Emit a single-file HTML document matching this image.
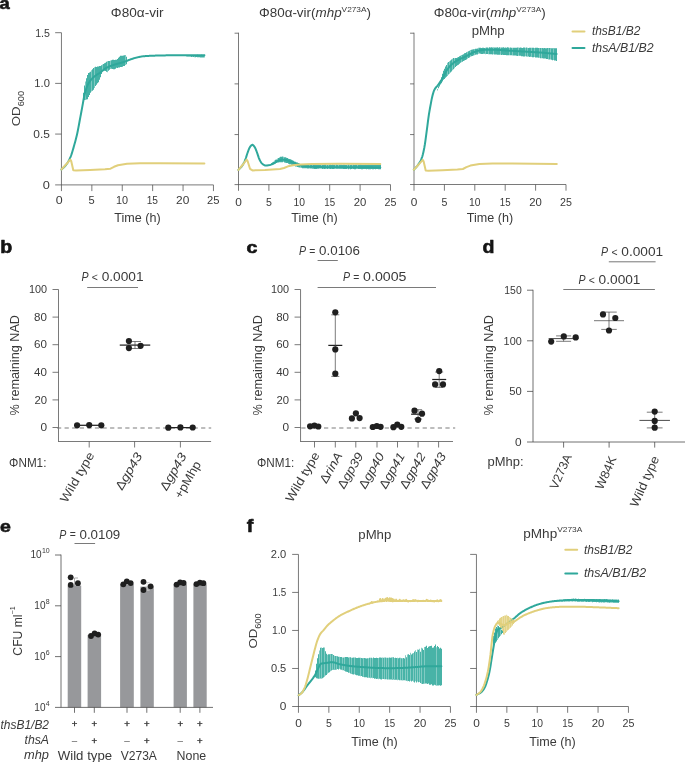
<!DOCTYPE html>
<html lang="en">
<head>
<meta charset="utf-8">
<title>Figure</title>
<style>
html,body{margin:0;padding:0;background:#fff;}
body{width:685px;height:762px;overflow:hidden;}
svg{display:block;font-family:"Liberation Sans",sans-serif;font-size:12.3px;fill:#3a3a3a;}
</style>
</head>
<body>
<svg width="685" height="762" viewBox="0 0 685 762">
<rect width="685" height="762" fill="#ffffff"/>
<text x="-0.40" y="9.30" textLength="10.21" lengthAdjust="spacingAndGlyphs" font-weight="bold" font-size="17.0" fill="#151515" stroke="#151515" stroke-width="0.6" stroke-linejoin="round">a</text>
<line x1="55.15" y1="184.90" x2="213.45" y2="184.90" stroke="#4d4d4d" stroke-width="0.75"/>
<line x1="61.45" y1="32.70" x2="61.45" y2="191.10" stroke="#4d4d4d" stroke-width="0.75"/>
<line x1="91.85" y1="184.90" x2="91.85" y2="191.10" stroke="#4d4d4d" stroke-width="0.75"/>
<line x1="122.25" y1="184.90" x2="122.25" y2="191.10" stroke="#4d4d4d" stroke-width="0.75"/>
<line x1="152.65" y1="184.90" x2="152.65" y2="191.10" stroke="#4d4d4d" stroke-width="0.75"/>
<line x1="183.05" y1="184.90" x2="183.05" y2="191.10" stroke="#4d4d4d" stroke-width="0.75"/>
<line x1="213.45" y1="184.90" x2="213.45" y2="191.10" stroke="#4d4d4d" stroke-width="0.75"/>
<line x1="55.15" y1="134.07" x2="61.45" y2="134.07" stroke="#4d4d4d" stroke-width="0.75"/>
<line x1="55.15" y1="83.38" x2="61.45" y2="83.38" stroke="#4d4d4d" stroke-width="0.75"/>
<line x1="55.15" y1="32.70" x2="61.45" y2="32.70" stroke="#4d4d4d" stroke-width="0.75"/>
<text x="59.25" y="204.20" text-anchor="middle" textLength="6.92" lengthAdjust="spacingAndGlyphs" font-size="10.7">0</text>
<text x="91.55" y="204.20" text-anchor="middle" textLength="6.19" lengthAdjust="spacingAndGlyphs" font-size="10.7">5</text>
<text x="121.95" y="204.20" text-anchor="middle" textLength="12.06" lengthAdjust="spacingAndGlyphs" font-size="10.7">10</text>
<text x="152.35" y="204.20" text-anchor="middle" textLength="11.33" lengthAdjust="spacingAndGlyphs" font-size="10.7">15</text>
<text x="182.75" y="204.20" text-anchor="middle" textLength="13.22" lengthAdjust="spacingAndGlyphs" font-size="10.7">20</text>
<text x="213.15" y="204.20" text-anchor="middle" textLength="12.48" lengthAdjust="spacingAndGlyphs" font-size="10.7">25</text>
<text x="137.45" y="222.30" text-anchor="middle" textLength="46.30" lengthAdjust="spacingAndGlyphs">Time (h)</text>
<line x1="234.55" y1="184.60" x2="390.50" y2="184.60" stroke="#4d4d4d" stroke-width="0.75"/>
<line x1="238.50" y1="32.70" x2="238.50" y2="190.80" stroke="#4d4d4d" stroke-width="0.75"/>
<line x1="268.90" y1="184.60" x2="268.90" y2="190.80" stroke="#4d4d4d" stroke-width="0.75"/>
<line x1="299.30" y1="184.60" x2="299.30" y2="190.80" stroke="#4d4d4d" stroke-width="0.75"/>
<line x1="329.70" y1="184.60" x2="329.70" y2="190.80" stroke="#4d4d4d" stroke-width="0.75"/>
<line x1="360.10" y1="184.60" x2="360.10" y2="190.80" stroke="#4d4d4d" stroke-width="0.75"/>
<line x1="390.50" y1="184.60" x2="390.50" y2="190.80" stroke="#4d4d4d" stroke-width="0.75"/>
<line x1="234.55" y1="134.57" x2="238.50" y2="134.57" stroke="#4d4d4d" stroke-width="0.75"/>
<line x1="234.55" y1="83.88" x2="238.50" y2="83.88" stroke="#4d4d4d" stroke-width="0.75"/>
<line x1="234.55" y1="33.20" x2="238.50" y2="33.20" stroke="#4d4d4d" stroke-width="0.75"/>
<text x="238.50" y="205.80" text-anchor="middle" textLength="6.60" lengthAdjust="spacingAndGlyphs" font-size="10.2">0</text>
<text x="268.90" y="205.80" text-anchor="middle" textLength="5.90" lengthAdjust="spacingAndGlyphs" font-size="10.2">5</text>
<text x="299.30" y="205.80" text-anchor="middle" textLength="11.50" lengthAdjust="spacingAndGlyphs" font-size="10.2">10</text>
<text x="329.70" y="205.80" text-anchor="middle" textLength="10.80" lengthAdjust="spacingAndGlyphs" font-size="10.2">15</text>
<text x="360.10" y="205.80" text-anchor="middle" textLength="12.60" lengthAdjust="spacingAndGlyphs" font-size="10.2">20</text>
<text x="390.50" y="205.80" text-anchor="middle" textLength="11.90" lengthAdjust="spacingAndGlyphs" font-size="10.2">25</text>
<text x="314.50" y="222.30" text-anchor="middle" textLength="46.30" lengthAdjust="spacingAndGlyphs">Time (h)</text>
<line x1="410.05" y1="184.50" x2="566.00" y2="184.50" stroke="#4d4d4d" stroke-width="0.75"/>
<line x1="414.00" y1="32.70" x2="414.00" y2="190.70" stroke="#4d4d4d" stroke-width="0.75"/>
<line x1="444.40" y1="184.50" x2="444.40" y2="190.70" stroke="#4d4d4d" stroke-width="0.75"/>
<line x1="474.80" y1="184.50" x2="474.80" y2="190.70" stroke="#4d4d4d" stroke-width="0.75"/>
<line x1="505.20" y1="184.50" x2="505.20" y2="190.70" stroke="#4d4d4d" stroke-width="0.75"/>
<line x1="535.60" y1="184.50" x2="535.60" y2="190.70" stroke="#4d4d4d" stroke-width="0.75"/>
<line x1="566.00" y1="184.50" x2="566.00" y2="190.70" stroke="#4d4d4d" stroke-width="0.75"/>
<line x1="410.05" y1="134.57" x2="414.00" y2="134.57" stroke="#4d4d4d" stroke-width="0.75"/>
<line x1="410.05" y1="83.88" x2="414.00" y2="83.88" stroke="#4d4d4d" stroke-width="0.75"/>
<line x1="410.05" y1="33.20" x2="414.00" y2="33.20" stroke="#4d4d4d" stroke-width="0.75"/>
<text x="414.00" y="205.80" text-anchor="middle" textLength="6.60" lengthAdjust="spacingAndGlyphs" font-size="10.2">0</text>
<text x="444.40" y="205.80" text-anchor="middle" textLength="5.90" lengthAdjust="spacingAndGlyphs" font-size="10.2">5</text>
<text x="474.80" y="205.80" text-anchor="middle" textLength="11.50" lengthAdjust="spacingAndGlyphs" font-size="10.2">10</text>
<text x="505.20" y="205.80" text-anchor="middle" textLength="10.80" lengthAdjust="spacingAndGlyphs" font-size="10.2">15</text>
<text x="535.60" y="205.80" text-anchor="middle" textLength="12.60" lengthAdjust="spacingAndGlyphs" font-size="10.2">20</text>
<text x="566.00" y="205.80" text-anchor="middle" textLength="11.90" lengthAdjust="spacingAndGlyphs" font-size="10.2">25</text>
<text x="490.00" y="222.30" text-anchor="middle" textLength="46.30" lengthAdjust="spacingAndGlyphs">Time (h)</text>
<text x="49.90" y="188.65" text-anchor="end" textLength="7.12" lengthAdjust="spacingAndGlyphs" font-size="11">0</text>
<text x="49.90" y="137.97" text-anchor="end" textLength="16.61" lengthAdjust="spacingAndGlyphs" font-size="11">0.5</text>
<text x="49.90" y="87.28" text-anchor="end" textLength="15.53" lengthAdjust="spacingAndGlyphs" font-size="11">1.0</text>
<text x="49.90" y="36.60" text-anchor="end" textLength="14.77" lengthAdjust="spacingAndGlyphs" font-size="11">1.5</text>
<text x="20.10" y="108.60" text-anchor="middle" textLength="35.20" lengthAdjust="spacingAndGlyphs" font-size="11.8" transform="rotate(-90 20.10 108.60)">OD<tspan font-size="8.2" dy="4.2">600</tspan></text>
<text x="137.20" y="17.00" text-anchor="middle" textLength="52.70" lengthAdjust="spacingAndGlyphs">Φ80α-vir</text>
<text x="315.00" y="17.00" text-anchor="middle" textLength="112.00" lengthAdjust="spacingAndGlyphs">Φ80α-vir(<tspan font-style="italic">mhp</tspan><tspan font-size="7.6" dy="-5.2">V273A</tspan><tspan dy="5.2">)</tspan></text>
<text x="489.70" y="17.00" text-anchor="middle" textLength="112.00" lengthAdjust="spacingAndGlyphs">Φ80α-vir(<tspan font-style="italic">mhp</tspan><tspan font-size="7.6" dy="-5.2">V273A</tspan><tspan dy="5.2">)</tspan></text>
<text x="488.20" y="35.30" text-anchor="middle" textLength="33.00" lengthAdjust="spacingAndGlyphs">pMhp</text>
<path d="M83,92.67h1V99.97h-1zM84,85.51h1V100.12h-1zM86,78.33h1V99.62h-1zM87,75.11h1V99.27h-1zM88,72.90h1V97.01h-1zM89,72.58h1V95.12h-1zM90,71.74h1V92.65h-1zM92,69.23h1V90.85h-1zM93,68.00h1V89.63h-1zM95,66.73h1V86.05h-1zM96,66.89h1V84.69h-1zM97,66.58h1V83.37h-1zM98,66.46h1V82.20h-1zM99,66.07h1V79.84h-1zM100,65.92h1V77.29h-1zM101,65.17h1V73.91h-1zM103,64.10h1V71.08h-1zM104,63.32h1V70.82h-1zM105,62.69h1V71.02h-1zM106,61.82h1V71.85h-1zM108,61.09h1V70.87h-1zM109,61.07h1V69.65h-1zM111,60.29h1V68.81h-1zM112,59.86h1V68.94h-1zM113,59.65h1V69.26h-1zM114,60.00h1V69.25h-1zM115,59.67h1V68.77h-1zM116,59.75h1V67.68h-1zM117,58.90h1V67.97h-1zM118,57.76h1V67.41h-1zM119,56.81h1V67.51h-1zM120,55.83h1V67.10h-1zM121,55.67h1V67.10h-1zM122,55.67h1V66.69h-1zM123,55.46h1V66.02h-1zM124,55.33h1V66.04h-1zM126,56.84h1V64.18h-1z" fill="#2fa89b" opacity="0.9"/>
<path d="M85,81.53h1V100.00h-1zM91,70.36h1V91.41h-1zM94,67.19h1V87.94h-1zM102,64.48h1V71.23h-1zM107,61.16h1V72.22h-1zM110,60.46h1V68.93h-1zM125,54.88h1V65.07h-1zM127,60.00h1V61.53h-1z" fill="#2fa89b" opacity="0.62"/>
<path d="M187,55.32h1V56.57h-1zM188,55.39h1V56.53h-1zM189,55.45h1V56.61h-1zM191,55.44h1V57.06h-1zM193,55.05h1V56.93h-1zM195,54.92h1V57.29h-1zM196,55.06h1V57.03h-1zM197,54.82h1V57.24h-1zM198,55.11h1V57.36h-1zM199,54.90h1V57.20h-1zM200,54.94h1V57.49h-1zM201,54.79h1V57.55h-1zM202,55.01h1V57.60h-1zM203,54.94h1V57.42h-1z" fill="#2fa89b" opacity="0.9"/>
<path d="M186,55.41h1V56.56h-1zM190,55.29h1V56.76h-1zM192,55.24h1V56.92h-1zM194,55.06h1V57.18h-1zM204,54.77h1V57.40h-1z" fill="#2fa89b" opacity="0.62"/>
<path d="M61.40,169.50 L61.90,169.02 L62.40,168.57 L62.90,168.13 L63.40,167.68 L63.90,167.23 L64.40,166.76 L64.90,166.26 L65.40,165.72 L65.90,165.13 L66.40,164.48 L66.90,163.77 L67.40,163.01 L67.90,162.19 L68.40,161.31 L68.90,160.38 L69.40,159.39 L69.90,158.34 L70.40,157.23 L70.90,156.02 L71.40,154.65 L71.90,153.14 L72.40,151.52 L72.90,149.83 L73.40,148.10 L73.90,146.35 L74.40,144.60 L74.90,142.80 L75.40,140.95 L75.90,139.03 L76.40,137.02 L76.90,134.92 L77.40,132.69 L77.90,130.26 L78.40,127.66 L78.90,124.96 L79.40,122.23 L79.90,119.53 L80.40,116.88 L80.90,114.20 L81.40,111.52 L81.90,108.84 L82.40,106.16 L82.90,103.37 L83.40,100.53 L83.90,97.78 L84.40,95.30 L84.90,93.21 L85.40,91.33 L85.90,89.61 L86.40,88.08 L86.90,86.74 L87.40,85.58 L87.90,84.53 L88.40,83.57 L88.90,82.70 L89.40,81.93 L89.90,81.23 L90.40,80.58 L90.90,79.96 L91.40,79.38 L91.90,78.84 L92.40,78.32 L92.90,77.83 L93.40,77.36 L93.90,76.91 L94.40,76.49 L94.90,76.08 L95.40,75.69 L95.90,75.33 L96.40,75.00 L96.90,74.68 L97.40,74.38 L97.90,74.08 L98.40,73.77 L98.90,73.46 L99.40,73.14 L99.90,72.79 L100.40,72.42 L100.90,72.03 L101.40,71.64 L101.90,71.23 L102.40,70.82 L102.90,70.40 L103.40,69.99 L103.90,69.59 L104.40,69.20 L104.90,68.82 L105.40,68.46 L105.90,68.13 L106.40,67.83 L106.90,67.55 L107.40,67.30 L107.90,67.07 L108.40,66.85 L108.90,66.63 L109.40,66.43 L109.90,66.23 L110.40,66.04 L110.90,65.86 L111.40,65.69 L111.90,65.51 L112.40,65.35 L112.90,65.18 L113.40,65.02 L113.90,64.86 L114.40,64.69 L114.90,64.53 L115.40,64.37 L115.90,64.22 L116.40,64.07 L116.90,63.92 L117.40,63.78 L117.90,63.64 L118.40,63.51 L118.90,63.37 L119.40,63.24 L119.90,63.11 L120.40,62.98 L120.90,62.84 L121.40,62.70 L121.90,62.56 L122.40,62.42 L122.90,62.27 L123.40,62.12 L123.90,61.96 L124.40,61.80 L124.90,61.63 L125.40,61.44 L125.90,61.24 L126.40,61.04 L126.90,60.84 L127.40,60.63 L127.90,60.42 L128.40,60.21 L128.90,60.01 L129.40,59.82 L129.90,59.64 L130.40,59.46 L130.90,59.28 L131.40,59.11 L131.90,58.94 L132.40,58.77 L132.90,58.61 L133.40,58.45 L133.90,58.30 L134.40,58.16 L134.90,58.03 L135.40,57.90 L135.90,57.77 L136.40,57.65 L136.90,57.52 L137.40,57.40 L137.90,57.27 L138.40,57.15 L138.90,57.04 L139.40,56.92 L139.90,56.82 L140.40,56.72 L140.90,56.62 L141.40,56.53 L141.90,56.45 L142.40,56.37 L142.90,56.31 L143.40,56.25 L143.90,56.21 L144.40,56.17 L144.90,56.13 L145.40,56.10 L145.90,56.06 L146.40,56.03 L146.90,56.00 L147.40,55.97 L147.90,55.94 L148.40,55.91 L148.90,55.89 L149.40,55.86 L149.90,55.84 L150.40,55.81 L150.90,55.79 L151.40,55.77 L151.90,55.75 L152.40,55.73 L152.90,55.71 L153.40,55.69 L153.90,55.67 L154.40,55.65 L154.90,55.64 L155.40,55.62 L155.90,55.61 L156.40,55.59 L156.90,55.58 L157.40,55.56 L157.90,55.55 L158.40,55.54 L158.90,55.53 L159.40,55.51 L159.90,55.50 L160.40,55.49 L160.90,55.48 L161.40,55.47 L161.90,55.46 L162.40,55.45 L162.90,55.43 L163.40,55.42 L163.90,55.41 L164.40,55.40 L164.90,55.39 L165.40,55.38 L165.90,55.37 L166.40,55.36 L166.90,55.35 L167.40,55.34 L167.90,55.33 L168.40,55.32 L168.90,55.31 L169.40,55.30 L169.90,55.29 L170.40,55.29 L170.90,55.28 L171.40,55.27 L171.90,55.26 L172.40,55.26 L172.90,55.25 L173.40,55.24 L173.90,55.24 L174.40,55.23 L174.90,55.23 L175.40,55.22 L175.90,55.22 L176.40,55.21 L176.90,55.21 L177.40,55.21 L177.90,55.20 L178.40,55.20 L178.90,55.20 L179.40,55.20 L179.90,55.20 L180.40,55.20 L180.90,55.20 L181.40,55.20 L181.90,55.20 L182.40,55.20 L182.90,55.20 L183.40,55.20 L183.90,55.20 L184.40,55.21 L184.90,55.21 L185.40,55.21 L185.90,55.21 L186.40,55.21 L186.90,55.21 L187.40,55.22 L187.90,55.22 L188.40,55.22 L188.90,55.22 L189.40,55.22 L189.90,55.23 L190.40,55.23 L190.90,55.23 L191.40,55.23 L191.90,55.24 L192.40,55.24 L192.90,55.24 L193.40,55.24 L193.90,55.25 L194.40,55.25 L194.90,55.25 L195.40,55.25 L195.90,55.26 L196.40,55.26 L196.90,55.26 L197.40,55.27 L197.90,55.27 L198.40,55.27 L198.90,55.27 L199.40,55.28 L199.90,55.28 L200.40,55.28 L200.90,55.28 L201.40,55.29 L201.90,55.29 L202.40,55.29 L202.90,55.29 L203.40,55.30 L203.90,55.30 L204.40,55.30" fill="none" stroke="#2fa89b" stroke-width="2.0" stroke-linejoin="round" stroke-linecap="round"/>
<path d="M61.40,169.50 L66.00,164.50 L70.30,159.60 L71.20,161.00 L73.30,170.20 L76.00,170.50 L90.00,170.00 L105.00,169.30 L110.50,168.70 L114.00,166.80 L118.00,165.30 L127.00,163.80 L140.00,163.20 L160.00,163.30 L204.40,163.60" fill="none" stroke="#e1cf7b" stroke-width="2.0" stroke-linejoin="round" stroke-linecap="round"/>
<path d="M271,163.32h1V164.01h-1zM272,162.43h1V164.50h-1zM273,161.67h1V164.37h-1zM275,159.81h1V163.42h-1zM276,159.38h1V163.12h-1zM278,157.97h1V162.54h-1zM279,157.56h1V162.33h-1zM280,156.82h1V162.21h-1zM281,156.63h1V162.16h-1zM282,156.54h1V162.27h-1zM284,157.30h1V162.61h-1zM285,157.22h1V162.82h-1zM286,157.83h1V162.92h-1zM287,157.99h1V163.12h-1zM288,158.63h1V163.70h-1zM289,158.93h1V164.21h-1zM290,159.23h1V164.28h-1zM291,159.70h1V164.81h-1zM292,160.28h1V165.00h-1zM293,160.75h1V165.55h-1zM294,161.50h1V165.93h-1zM295,161.81h1V166.38h-1zM297,162.46h1V167.11h-1zM298,162.93h1V167.21h-1zM299,163.51h1V167.39h-1zM301,164.29h1V167.85h-1zM302,164.21h1V168.16h-1zM303,164.39h1V168.23h-1zM304,164.39h1V168.24h-1zM305,164.47h1V168.35h-1zM306,164.53h1V168.33h-1zM307,164.66h1V168.58h-1zM308,164.51h1V168.52h-1zM310,164.69h1V168.44h-1zM311,164.65h1V168.52h-1zM313,164.89h1V168.83h-1zM314,164.63h1V168.94h-1zM315,164.66h1V168.98h-1zM316,164.78h1V169.01h-1zM317,164.63h1V168.76h-1zM318,164.72h1V168.66h-1zM319,164.89h1V168.59h-1zM320,164.76h1V168.59h-1zM322,165.01h1V168.96h-1zM323,165.00h1V168.66h-1zM324,164.58h1V168.97h-1zM325,164.62h1V168.82h-1zM327,164.98h1V168.90h-1zM329,164.87h1V168.85h-1zM330,164.59h1V169.09h-1zM331,164.93h1V168.71h-1zM332,164.59h1V169.07h-1zM333,164.72h1V168.94h-1zM334,164.68h1V168.75h-1zM336,164.58h1V168.80h-1zM337,164.70h1V168.86h-1zM339,164.72h1V168.74h-1zM340,164.68h1V168.75h-1zM341,164.81h1V168.83h-1zM342,164.99h1V168.80h-1zM343,164.76h1V168.99h-1zM344,164.74h1V169.00h-1zM345,165.01h1V168.93h-1zM346,164.88h1V169.08h-1zM348,164.59h1V169.14h-1zM350,164.94h1V169.21h-1zM351,164.87h1V168.95h-1zM353,164.76h1V168.96h-1zM354,165.00h1V169.29h-1zM355,164.67h1V169.29h-1zM356,164.72h1V168.86h-1zM358,164.79h1V168.88h-1zM359,164.68h1V168.93h-1zM360,164.58h1V168.90h-1zM361,164.67h1V169.17h-1zM362,164.90h1V169.21h-1zM363,164.96h1V169.09h-1zM364,165.01h1V168.99h-1zM365,164.85h1V168.95h-1zM366,164.97h1V169.23h-1zM367,164.93h1V169.01h-1zM368,164.79h1V169.34h-1zM369,164.94h1V169.23h-1zM370,164.87h1V169.29h-1zM371,164.58h1V169.04h-1zM372,164.61h1V169.37h-1zM373,164.85h1V169.28h-1zM374,164.78h1V169.00h-1zM375,164.90h1V169.24h-1zM376,164.86h1V169.05h-1zM377,164.68h1V169.06h-1zM378,164.89h1V169.13h-1zM379,165.01h1V169.26h-1zM380,164.78h1V169.36h-1z" fill="#2fa89b" opacity="0.9"/>
<path d="M274,160.57h1V163.64h-1zM277,158.52h1V162.70h-1zM283,156.70h1V162.10h-1zM296,162.06h1V166.69h-1zM300,163.91h1V167.85h-1zM309,164.82h1V168.40h-1zM312,164.92h1V168.93h-1zM321,164.85h1V168.83h-1zM326,164.93h1V168.75h-1zM328,164.88h1V168.69h-1zM335,164.67h1V168.75h-1zM338,164.69h1V168.95h-1zM347,164.72h1V168.82h-1zM349,164.68h1V168.88h-1zM352,164.69h1V169.04h-1zM357,164.78h1V169.10h-1z" fill="#2fa89b" opacity="0.62"/>
<path d="M238.40,169.90 L238.90,169.38 L239.40,168.87 L239.90,168.38 L240.40,167.88 L240.90,167.35 L241.40,166.77 L241.90,166.14 L242.40,165.43 L242.90,164.64 L243.40,163.78 L243.90,162.84 L244.40,161.82 L244.90,160.73 L245.40,159.48 L245.90,157.99 L246.40,156.38 L246.90,154.76 L247.40,153.27 L247.90,151.91 L248.40,150.52 L248.90,149.20 L249.40,148.04 L249.90,147.14 L250.40,146.47 L250.90,145.84 L251.40,145.31 L251.90,144.94 L252.40,144.80 L252.90,144.97 L253.40,145.40 L253.90,146.00 L254.40,146.67 L254.90,147.43 L255.40,148.45 L255.90,149.65 L256.40,150.95 L256.90,152.25 L257.40,153.58 L257.90,155.07 L258.40,156.61 L258.90,158.05 L259.40,159.29 L259.90,160.30 L260.40,161.25 L260.90,162.11 L261.40,162.84 L261.90,163.41 L262.40,163.84 L262.90,164.26 L263.40,164.64 L263.90,164.97 L264.40,165.24 L264.90,165.42 L265.40,165.50 L265.90,165.49 L266.40,165.47 L266.90,165.44 L267.40,165.39 L267.90,165.34 L268.40,165.28 L268.90,165.21 L269.40,165.13 L269.90,165.01 L270.40,164.86 L270.90,164.67 L271.40,164.46 L271.90,164.23 L272.40,163.99 L272.90,163.75 L273.40,163.50 L273.90,163.25 L274.40,162.99 L274.90,162.69 L275.40,162.37 L275.90,162.03 L276.40,161.69 L276.90,161.37 L277.40,161.08 L277.90,160.84 L278.40,160.64 L278.90,160.43 L279.40,160.23 L279.90,160.04 L280.40,159.87 L280.90,159.73 L281.40,159.64 L281.90,159.60 L282.40,159.61 L282.90,159.63 L283.40,159.66 L283.90,159.71 L284.40,159.77 L284.90,159.84 L285.40,159.91 L285.90,159.98 L286.40,160.07 L286.90,160.20 L287.40,160.35 L287.90,160.52 L288.40,160.72 L288.90,160.92 L289.40,161.14 L289.90,161.35 L290.40,161.56 L290.90,161.76 L291.40,161.95 L291.90,162.15 L292.40,162.36 L292.90,162.57 L293.40,162.78 L293.90,162.99 L294.40,163.19 L294.90,163.39 L295.40,163.58 L295.90,163.77 L296.40,163.94 L296.90,164.11 L297.40,164.29 L297.90,164.46 L298.40,164.63 L298.90,164.79 L299.40,164.95 L299.90,165.10 L300.40,165.24 L300.90,165.37 L301.40,165.48 L301.90,165.58 L302.40,165.67 L302.90,165.76 L303.40,165.84 L303.90,165.92 L304.40,166.00 L304.90,166.08 L305.40,166.15 L305.90,166.23 L306.40,166.29 L306.90,166.36 L307.40,166.42 L307.90,166.48 L308.40,166.53 L308.90,166.58 L309.40,166.63 L309.90,166.67 L310.40,166.71 L310.90,166.74 L311.40,166.77 L311.90,166.80 L312.40,166.82 L312.90,166.84 L313.40,166.85 L313.90,166.87 L314.40,166.89 L314.90,166.91 L315.40,166.92 L315.90,166.94 L316.40,166.95 L316.90,166.97 L317.40,166.98 L317.90,167.00 L318.40,167.01 L318.90,167.02 L319.40,167.04 L319.90,167.05 L320.40,167.06 L320.90,167.07 L321.40,167.08 L321.90,167.09 L322.40,167.10 L322.90,167.11 L323.40,167.12 L323.90,167.13 L324.40,167.14 L324.90,167.14 L325.40,167.15 L325.90,167.16 L326.40,167.16 L326.90,167.17 L327.40,167.18 L327.90,167.18 L328.40,167.19 L328.90,167.19 L329.40,167.20 L329.90,167.20 L330.40,167.20 L330.90,167.21 L331.40,167.21 L331.90,167.21 L332.40,167.22 L332.90,167.22 L333.40,167.22 L333.90,167.23 L334.40,167.23 L334.90,167.23 L335.40,167.24 L335.90,167.24 L336.40,167.24 L336.90,167.25 L337.40,167.25 L337.90,167.25 L338.40,167.25 L338.90,167.26 L339.40,167.26 L339.90,167.26 L340.40,167.26 L340.90,167.27 L341.40,167.27 L341.90,167.27 L342.40,167.27 L342.90,167.28 L343.40,167.28 L343.90,167.28 L344.40,167.28 L344.90,167.29 L345.40,167.29 L345.90,167.29 L346.40,167.29 L346.90,167.29 L347.40,167.30 L347.90,167.30 L348.40,167.30 L348.90,167.30 L349.40,167.30 L349.90,167.31 L350.40,167.31 L350.90,167.31 L351.40,167.31 L351.90,167.31 L352.40,167.31 L352.90,167.32 L353.40,167.32 L353.90,167.32 L354.40,167.32 L354.90,167.32 L355.40,167.32 L355.90,167.32 L356.40,167.33 L356.90,167.33 L357.40,167.33 L357.90,167.33 L358.40,167.33 L358.90,167.33 L359.40,167.34 L359.90,167.34 L360.40,167.34 L360.90,167.34 L361.40,167.34 L361.90,167.34 L362.40,167.34 L362.90,167.34 L363.40,167.35 L363.90,167.35 L364.40,167.35 L364.90,167.35 L365.40,167.35 L365.90,167.35 L366.40,167.35 L366.90,167.36 L367.40,167.36 L367.90,167.36 L368.40,167.36 L368.90,167.36 L369.40,167.36 L369.90,167.36 L370.40,167.37 L370.90,167.37 L371.40,167.37 L371.90,167.37 L372.40,167.37 L372.90,167.37 L373.40,167.38 L373.90,167.38 L374.40,167.38 L374.90,167.38 L375.40,167.38 L375.90,167.38 L376.40,167.39 L376.90,167.39 L377.40,167.39 L377.90,167.39 L378.40,167.39 L378.90,167.39 L379.40,167.40 L379.90,167.40 L380.30,167.40" fill="none" stroke="#2fa89b" stroke-width="2.0" stroke-linejoin="round" stroke-linecap="round"/>
<path d="M238.40,169.90 L243.00,164.50 L246.60,159.60 L247.60,161.00 L250.00,168.80 L252.50,170.40 L265.00,170.00 L280.00,169.00 L284.00,168.00 L288.00,166.30 L293.00,165.30 L300.00,164.60 L312.00,163.90 L340.00,163.80 L380.30,164.10" fill="none" stroke="#e1cf7b" stroke-width="2.0" stroke-linejoin="round" stroke-linecap="round"/>
<path d="M438,86.32h1V88.33h-1zM439,83.98h1V86.38h-1zM440,80.36h1V84.61h-1zM441,77.29h1V83.19h-1zM442,73.81h1V81.46h-1zM443,70.74h1V79.74h-1zM444,68.63h1V79.07h-1zM445,66.56h1V77.87h-1zM446,64.93h1V76.86h-1zM448,62.11h1V74.62h-1zM450,60.40h1V72.57h-1zM451,59.53h1V71.54h-1zM453,58.11h1V69.29h-1zM455,57.98h1V67.09h-1zM456,58.04h1V65.90h-1zM457,57.50h1V65.15h-1zM458,56.92h1V64.65h-1zM459,56.25h1V63.66h-1zM460,55.80h1V62.86h-1zM462,54.70h1V61.63h-1zM463,54.13h1V61.01h-1zM464,53.37h1V60.39h-1zM465,52.94h1V60.06h-1zM466,52.30h1V59.43h-1zM468,51.34h1V57.95h-1zM469,50.85h1V57.38h-1zM471,49.87h1V56.14h-1zM472,49.53h1V55.96h-1zM473,49.25h1V55.59h-1zM475,48.68h1V54.75h-1zM476,48.70h1V54.53h-1zM477,48.44h1V54.39h-1zM479,47.84h1V53.62h-1zM480,47.76h1V53.73h-1zM481,47.97h1V53.96h-1zM482,47.74h1V53.91h-1zM483,47.67h1V53.77h-1zM484,47.88h1V53.84h-1zM486,47.53h1V53.97h-1zM487,47.54h1V54.08h-1zM489,47.31h1V54.27h-1zM490,47.61h1V54.21h-1zM491,47.22h1V54.22h-1zM492,47.53h1V54.45h-1zM494,47.43h1V54.51h-1zM495,47.61h1V54.58h-1zM496,47.55h1V54.54h-1zM497,47.27h1V54.73h-1zM498,47.63h1V54.73h-1zM499,47.33h1V54.64h-1zM501,47.50h1V54.89h-1zM502,47.46h1V54.81h-1zM503,47.32h1V54.90h-1zM504,47.70h1V55.09h-1zM505,47.52h1V54.99h-1zM506,47.72h1V55.24h-1zM507,47.37h1V55.21h-1zM508,47.53h1V55.18h-1zM510,47.52h1V55.36h-1zM511,47.67h1V55.34h-1zM513,47.80h1V55.50h-1zM514,47.75h1V55.53h-1zM515,47.74h1V55.62h-1zM516,47.64h1V55.63h-1zM517,47.62h1V55.88h-1zM519,47.86h1V55.82h-1zM520,47.52h1V55.87h-1zM521,47.86h1V56.27h-1zM522,47.91h1V56.37h-1zM523,47.61h1V56.45h-1zM524,47.57h1V56.42h-1zM526,47.58h1V56.43h-1zM528,47.98h1V56.57h-1zM529,47.76h1V56.89h-1zM530,47.80h1V56.66h-1zM532,47.81h1V57.20h-1zM533,47.69h1V57.13h-1zM535,47.73h1V57.57h-1zM536,47.82h1V57.62h-1zM537,47.86h1V57.56h-1zM538,47.99h1V57.67h-1zM540,48.07h1V58.17h-1zM542,47.89h1V58.24h-1zM543,48.19h1V58.54h-1zM544,47.93h1V58.46h-1zM545,48.20h1V58.56h-1zM546,48.14h1V59.01h-1zM547,48.11h1V59.02h-1zM549,47.97h1V59.58h-1zM551,48.14h1V59.82h-1zM552,48.32h1V60.23h-1zM554,48.16h1V60.57h-1zM555,48.15h1V60.58h-1zM556,48.23h1V60.92h-1z" fill="#2fa89b" opacity="0.9"/>
<path d="M437,89.01h1V90.48h-1zM447,62.86h1V76.04h-1zM449,61.19h1V73.84h-1zM452,58.63h1V70.36h-1zM454,58.15h1V68.15h-1zM461,55.08h1V62.14h-1zM467,51.77h1V58.71h-1zM470,50.07h1V56.84h-1zM474,49.10h1V55.16h-1zM478,47.87h1V53.74h-1zM485,47.71h1V54.17h-1zM488,47.67h1V54.29h-1zM493,47.32h1V54.22h-1zM500,47.56h1V54.64h-1zM509,47.74h1V55.23h-1zM512,47.70h1V55.52h-1zM518,47.53h1V55.84h-1zM525,47.71h1V56.37h-1zM527,47.73h1V56.78h-1zM531,47.79h1V57.09h-1zM534,47.99h1V57.11h-1zM539,47.88h1V57.80h-1zM541,48.03h1V58.30h-1zM548,48.03h1V59.40h-1zM550,48.01h1V59.52h-1zM553,48.06h1V60.12h-1z" fill="#2fa89b" opacity="0.62"/>
<path d="M413.89,169.75 L414.39,169.17 L414.89,168.62 L415.39,168.07 L415.89,167.53 L416.39,166.97 L416.89,166.39 L417.39,165.77 L417.89,165.10 L418.39,164.38 L418.89,163.64 L419.39,162.86 L419.89,162.02 L420.39,161.11 L420.89,160.11 L421.39,158.99 L421.89,157.73 L422.39,156.20 L422.89,154.32 L423.39,152.16 L423.89,149.76 L424.39,147.20 L424.89,144.26 L425.39,140.86 L425.89,137.17 L426.39,133.38 L426.89,129.66 L427.39,125.88 L427.89,121.96 L428.39,118.15 L428.89,114.68 L429.39,111.61 L429.89,108.76 L430.39,106.04 L430.89,103.36 L431.39,100.67 L431.89,98.15 L432.39,96.00 L432.89,94.12 L433.39,92.41 L433.89,90.95 L434.39,89.81 L434.89,88.92 L435.39,88.17 L435.89,87.52 L436.39,86.93 L436.89,86.36 L437.39,85.79 L437.89,85.16 L438.39,84.47 L438.89,83.78 L439.39,83.08 L439.89,82.37 L440.39,81.64 L440.89,80.89 L441.39,80.12 L441.89,79.31 L442.39,78.44 L442.89,77.51 L443.39,76.54 L443.89,75.55 L444.39,74.57 L444.89,73.62 L445.39,72.73 L445.89,71.90 L446.39,71.09 L446.89,70.29 L447.39,69.52 L447.89,68.78 L448.39,68.08 L448.89,67.43 L449.39,66.84 L449.89,66.29 L450.39,65.76 L450.89,65.26 L451.39,64.78 L451.89,64.31 L452.39,63.87 L452.89,63.44 L453.39,63.04 L453.89,62.65 L454.39,62.27 L454.89,61.91 L455.39,61.57 L455.89,61.24 L456.39,60.93 L456.89,60.64 L457.39,60.35 L457.89,60.08 L458.39,59.81 L458.89,59.55 L459.39,59.30 L459.89,59.05 L460.39,58.81 L460.89,58.58 L461.39,58.36 L461.89,58.14 L462.39,57.94 L462.89,57.73 L463.39,57.52 L463.89,57.31 L464.39,57.10 L464.89,56.88 L465.39,56.65 L465.89,56.40 L466.39,56.14 L466.89,55.87 L467.39,55.58 L467.89,55.28 L468.39,54.98 L468.89,54.68 L469.39,54.38 L469.89,54.09 L470.39,53.80 L470.89,53.53 L471.39,53.28 L471.89,53.05 L472.39,52.83 L472.89,52.61 L473.39,52.40 L473.89,52.19 L474.39,51.99 L474.89,51.79 L475.39,51.59 L475.89,51.41 L476.39,51.24 L476.89,51.08 L477.39,50.93 L477.89,50.80 L478.39,50.68 L478.89,50.58 L479.39,50.49 L479.89,50.40 L480.39,50.31 L480.89,50.23 L481.39,50.15 L481.89,50.08 L482.39,50.01 L482.89,49.95 L483.39,49.90 L483.89,49.86 L484.39,49.82 L484.89,49.80 L485.39,49.79 L485.89,49.78 L486.39,49.77 L486.89,49.76 L487.39,49.75 L487.89,49.74 L488.39,49.73 L488.89,49.72 L489.39,49.72 L489.89,49.71 L490.39,49.71 L490.89,49.70 L491.39,49.70 L491.89,49.70 L492.39,49.70 L492.89,49.71 L493.39,49.71 L493.89,49.73 L494.39,49.74 L494.89,49.76 L495.39,49.78 L495.89,49.80 L496.39,49.83 L496.89,49.86 L497.39,49.89 L497.89,49.92 L498.39,49.95 L498.89,49.98 L499.39,50.02 L499.89,50.05 L500.39,50.09 L500.89,50.12 L501.39,50.16 L501.89,50.20 L502.39,50.23 L502.89,50.27 L503.39,50.30 L503.89,50.33 L504.39,50.36 L504.89,50.39 L505.39,50.42 L505.89,50.45 L506.39,50.48 L506.89,50.51 L507.39,50.54 L507.89,50.57 L508.39,50.60 L508.89,50.63 L509.39,50.66 L509.89,50.69 L510.39,50.72 L510.89,50.75 L511.39,50.78 L511.89,50.81 L512.39,50.84 L512.89,50.87 L513.39,50.91 L513.89,50.94 L514.39,50.97 L514.89,51.00 L515.39,51.03 L515.89,51.06 L516.39,51.09 L516.89,51.12 L517.39,51.15 L517.89,51.18 L518.39,51.21 L518.89,51.24 L519.39,51.27 L519.89,51.30 L520.39,51.33 L520.89,51.36 L521.39,51.39 L521.89,51.41 L522.39,51.44 L522.89,51.47 L523.39,51.50 L523.89,51.53 L524.39,51.55 L524.89,51.58 L525.39,51.61 L525.89,51.64 L526.39,51.67 L526.89,51.69 L527.39,51.72 L527.89,51.75 L528.39,51.78 L528.89,51.80 L529.39,51.83 L529.89,51.86 L530.39,51.89 L530.89,51.92 L531.39,51.95 L531.89,51.98 L532.39,52.01 L532.89,52.04 L533.39,52.07 L533.89,52.10 L534.39,52.13 L534.89,52.16 L535.39,52.19 L535.89,52.22 L536.39,52.25 L536.89,52.29 L537.39,52.32 L537.89,52.35 L538.39,52.39 L538.89,52.42 L539.39,52.46 L539.89,52.49 L540.39,52.53 L540.89,52.57 L541.39,52.60 L541.89,52.64 L542.39,52.68 L542.89,52.73 L543.39,52.77 L543.89,52.81 L544.39,52.85 L544.89,52.90 L545.39,52.94 L545.89,52.99 L546.39,53.03 L546.89,53.08 L547.39,53.13 L547.89,53.17 L548.39,53.22 L548.89,53.27 L549.39,53.32 L549.89,53.37 L550.39,53.41 L550.89,53.46 L551.39,53.51 L551.89,53.56 L552.39,53.61 L552.89,53.65 L553.39,53.70 L553.89,53.75 L554.39,53.80 L554.89,53.84 L555.39,53.89 L555.89,53.94 L556.39,53.98 L556.60,54.00" fill="none" stroke="#2fa89b" stroke-width="2.0" stroke-linejoin="round" stroke-linecap="round"/>
<path d="M413.80,169.80 L418.40,164.80 L422.70,159.90 L423.60,161.30 L425.70,170.50 L428.40,170.80 L442.40,170.30 L457.40,169.60 L462.90,169.00 L466.40,167.10 L470.40,165.60 L479.40,164.10 L492.40,163.50 L512.40,163.60 L556.80,163.90" fill="none" stroke="#e1cf7b" stroke-width="2.0" stroke-linejoin="round" stroke-linecap="round"/>
<line x1="572.50" y1="31.50" x2="584.50" y2="31.50" stroke="#e1cf7b" stroke-width="2.0" stroke-linecap="round"/>
<line x1="572.50" y1="48.10" x2="584.50" y2="48.10" stroke="#2fa89b" stroke-width="2.0" stroke-linecap="round"/>
<text x="591.90" y="35.10" textLength="48.50" lengthAdjust="spacingAndGlyphs" font-style="italic">thsB1/B2</text>
<text x="591.90" y="51.70" textLength="61.60" lengthAdjust="spacingAndGlyphs" font-style="italic">thsA/B1/B2</text>
<text x="0.30" y="252.90" textLength="11.98" lengthAdjust="spacingAndGlyphs" font-weight="bold" font-size="18.5" fill="#151515" stroke="#151515" stroke-width="0.6" stroke-linejoin="round">b</text>
<line x1="58.10" y1="441.50" x2="211.10" y2="441.50" stroke="#4d4d4d" stroke-width="0.75"/>
<line x1="58.50" y1="289.50" x2="58.50" y2="441.50" stroke="#4d4d4d" stroke-width="0.75"/>
<line x1="52.50" y1="427.50" x2="58.50" y2="427.50" stroke="#4d4d4d" stroke-width="0.75"/>
<text x="47.00" y="431.20" text-anchor="end" textLength="6.60" lengthAdjust="spacingAndGlyphs" font-size="10.2">0</text>
<line x1="52.50" y1="399.90" x2="58.50" y2="399.90" stroke="#4d4d4d" stroke-width="0.75"/>
<text x="47.00" y="403.60" text-anchor="end" textLength="12.60" lengthAdjust="spacingAndGlyphs" font-size="10.2">20</text>
<line x1="52.50" y1="372.30" x2="58.50" y2="372.30" stroke="#4d4d4d" stroke-width="0.75"/>
<text x="47.00" y="376.00" text-anchor="end" textLength="12.90" lengthAdjust="spacingAndGlyphs" font-size="10.2">40</text>
<line x1="52.50" y1="344.70" x2="58.50" y2="344.70" stroke="#4d4d4d" stroke-width="0.75"/>
<text x="47.00" y="348.40" text-anchor="end" textLength="12.90" lengthAdjust="spacingAndGlyphs" font-size="10.2">60</text>
<line x1="52.50" y1="317.10" x2="58.50" y2="317.10" stroke="#4d4d4d" stroke-width="0.75"/>
<text x="47.00" y="320.80" text-anchor="end" textLength="12.90" lengthAdjust="spacingAndGlyphs" font-size="10.2">80</text>
<line x1="52.50" y1="289.50" x2="58.50" y2="289.50" stroke="#4d4d4d" stroke-width="0.75"/>
<text x="47.00" y="293.20" text-anchor="end" textLength="18.10" lengthAdjust="spacingAndGlyphs" font-size="10.2">100</text>
<line x1="89.20" y1="441.50" x2="89.20" y2="447.50" stroke="#4d4d4d" stroke-width="0.75"/>
<line x1="134.60" y1="441.50" x2="134.60" y2="447.50" stroke="#4d4d4d" stroke-width="0.75"/>
<line x1="180.40" y1="441.50" x2="180.40" y2="447.50" stroke="#4d4d4d" stroke-width="0.75"/>
<line x1="56.97" y1="427.95" x2="211.20" y2="427.95" stroke="#7c7c7c" stroke-width="1.05" stroke-dasharray="4.25 3.336"/>
<text x="19.30" y="365.30" text-anchor="middle" textLength="100.50" lengthAdjust="spacingAndGlyphs" transform="rotate(-90 19.30 365.30)">% remaining NAD</text>
<text x="81.50" y="280.80" textLength="7.06" lengthAdjust="spacingAndGlyphs" font-style="italic">P</text>
<text x="94.90" y="280.60" text-anchor="middle" textLength="6.10" lengthAdjust="spacingAndGlyphs" font-size="11">&lt;</text>
<text x="101.70" y="280.80" textLength="41.90" lengthAdjust="spacingAndGlyphs">0.0001</text>
<line x1="87.20" y1="287.50" x2="138.00" y2="287.50" stroke="#4d4d4d" stroke-width="0.75"/>
<text x="9.10" y="466.80" textLength="37.30" lengthAdjust="spacingAndGlyphs">ΦNM1:</text>
<line x1="77.20" y1="425.30" x2="101.20" y2="425.30" stroke="#222" stroke-width="1.25"/>
<circle cx="77.10" cy="425.30" r="3.1" fill="#1f1f1f"/>
<circle cx="89.20" cy="425.10" r="3.1" fill="#1f1f1f"/>
<circle cx="101.30" cy="425.30" r="3.1" fill="#1f1f1f"/>
<line x1="119.75" y1="345.10" x2="150.25" y2="345.10" stroke="#222" stroke-width="1.25"/>
<line x1="135.00" y1="341.50" x2="135.00" y2="348.50" stroke="#444" stroke-width="0.7"/>
<line x1="129.00" y1="341.50" x2="141.00" y2="341.50" stroke="#444" stroke-width="0.7"/>
<line x1="129.00" y1="348.50" x2="141.00" y2="348.50" stroke="#444" stroke-width="0.7"/>
<circle cx="128.90" cy="341.10" r="3.1" fill="#1f1f1f"/>
<circle cx="128.90" cy="348.10" r="3.1" fill="#1f1f1f"/>
<circle cx="140.60" cy="345.80" r="3.1" fill="#1f1f1f"/>
<line x1="168.40" y1="427.60" x2="192.40" y2="427.60" stroke="#222" stroke-width="1.25"/>
<circle cx="168.30" cy="427.70" r="3.1" fill="#1f1f1f"/>
<circle cx="180.40" cy="427.40" r="3.1" fill="#1f1f1f"/>
<circle cx="192.70" cy="427.50" r="3.1" fill="#1f1f1f"/>
<text x="94.70" y="455.00" text-anchor="end" textLength="56.00" lengthAdjust="spacingAndGlyphs" transform="rotate(-60 94.70 455.00)">Wild type</text>
<text x="142.60" y="455.60" text-anchor="end" textLength="41.00" lengthAdjust="spacingAndGlyphs" transform="rotate(-60 142.60 455.60)">Δ<tspan font-style="italic">gp43</tspan></text>
<text x="187.00" y="456.00" text-anchor="end" textLength="41.00" lengthAdjust="spacingAndGlyphs" transform="rotate(-60 187.00 456.00)">Δ<tspan font-style="italic">gp43</tspan></text>
<text x="201.50" y="464.00" text-anchor="end" textLength="41.00" lengthAdjust="spacingAndGlyphs" transform="rotate(-60 201.50 464.00)">+pMhp</text>
<text x="246.60" y="252.90" textLength="10.90" lengthAdjust="spacingAndGlyphs" font-weight="bold" font-size="16.2" fill="#151515" stroke="#151515" stroke-width="0.6" stroke-linejoin="round">c</text>
<line x1="300.15" y1="441.50" x2="453.00" y2="441.50" stroke="#4d4d4d" stroke-width="0.75"/>
<line x1="300.55" y1="289.50" x2="300.55" y2="441.50" stroke="#4d4d4d" stroke-width="0.75"/>
<line x1="294.55" y1="427.50" x2="300.55" y2="427.50" stroke="#4d4d4d" stroke-width="0.75"/>
<text x="289.05" y="431.20" text-anchor="end" textLength="6.60" lengthAdjust="spacingAndGlyphs" font-size="10.2">0</text>
<line x1="294.55" y1="399.90" x2="300.55" y2="399.90" stroke="#4d4d4d" stroke-width="0.75"/>
<text x="289.05" y="403.60" text-anchor="end" textLength="12.60" lengthAdjust="spacingAndGlyphs" font-size="10.2">20</text>
<line x1="294.55" y1="372.30" x2="300.55" y2="372.30" stroke="#4d4d4d" stroke-width="0.75"/>
<text x="289.05" y="376.00" text-anchor="end" textLength="12.90" lengthAdjust="spacingAndGlyphs" font-size="10.2">40</text>
<line x1="294.55" y1="344.70" x2="300.55" y2="344.70" stroke="#4d4d4d" stroke-width="0.75"/>
<text x="289.05" y="348.40" text-anchor="end" textLength="12.90" lengthAdjust="spacingAndGlyphs" font-size="10.2">60</text>
<line x1="294.55" y1="317.10" x2="300.55" y2="317.10" stroke="#4d4d4d" stroke-width="0.75"/>
<text x="289.05" y="320.80" text-anchor="end" textLength="12.90" lengthAdjust="spacingAndGlyphs" font-size="10.2">80</text>
<line x1="294.55" y1="289.50" x2="300.55" y2="289.50" stroke="#4d4d4d" stroke-width="0.75"/>
<text x="289.05" y="293.20" text-anchor="end" textLength="18.10" lengthAdjust="spacingAndGlyphs" font-size="10.2">100</text>
<line x1="314.50" y1="441.50" x2="314.50" y2="447.50" stroke="#4d4d4d" stroke-width="0.75"/>
<line x1="335.30" y1="441.50" x2="335.30" y2="447.50" stroke="#4d4d4d" stroke-width="0.75"/>
<line x1="355.80" y1="441.50" x2="355.80" y2="447.50" stroke="#4d4d4d" stroke-width="0.75"/>
<line x1="377.00" y1="441.50" x2="377.00" y2="447.50" stroke="#4d4d4d" stroke-width="0.75"/>
<line x1="397.50" y1="441.50" x2="397.50" y2="447.50" stroke="#4d4d4d" stroke-width="0.75"/>
<line x1="418.10" y1="441.50" x2="418.10" y2="447.50" stroke="#4d4d4d" stroke-width="0.75"/>
<line x1="438.60" y1="441.50" x2="438.60" y2="447.50" stroke="#4d4d4d" stroke-width="0.75"/>
<line x1="301.25" y1="427.95" x2="455.20" y2="427.95" stroke="#7c7c7c" stroke-width="1.05" stroke-dasharray="4.25 3.336"/>
<text x="262.20" y="365.30" text-anchor="middle" textLength="100.50" lengthAdjust="spacingAndGlyphs" transform="rotate(-90 262.20 365.30)">% remaining NAD</text>
<text x="298.90" y="255.10" textLength="7.06" lengthAdjust="spacingAndGlyphs" font-style="italic">P</text>
<text x="312.30" y="254.90" text-anchor="middle" textLength="6.10" lengthAdjust="spacingAndGlyphs" font-size="11">=</text>
<text x="319.10" y="255.10" textLength="40.80" lengthAdjust="spacingAndGlyphs">0.0106</text>
<line x1="317.60" y1="260.50" x2="337.80" y2="260.50" stroke="#4d4d4d" stroke-width="0.75"/>
<text x="342.90" y="280.80" textLength="7.06" lengthAdjust="spacingAndGlyphs" font-style="italic">P</text>
<text x="356.30" y="280.60" text-anchor="middle" textLength="6.10" lengthAdjust="spacingAndGlyphs" font-size="11">=</text>
<text x="363.10" y="280.80" textLength="43.30" lengthAdjust="spacingAndGlyphs">0.0005</text>
<line x1="317.60" y1="287.50" x2="436.00" y2="287.50" stroke="#4d4d4d" stroke-width="0.75"/>
<text x="257.00" y="466.80" textLength="37.30" lengthAdjust="spacingAndGlyphs">ΦNM1:</text>
<circle cx="310.10" cy="426.30" r="3.1" fill="#1f1f1f"/>
<circle cx="314.40" cy="425.60" r="3.1" fill="#1f1f1f"/>
<circle cx="318.30" cy="426.50" r="3.1" fill="#1f1f1f"/>
<line x1="328.30" y1="345.40" x2="342.30" y2="345.40" stroke="#222" stroke-width="1.25"/>
<line x1="335.30" y1="314.80" x2="335.30" y2="376.40" stroke="#444" stroke-width="0.7"/>
<line x1="331.30" y1="314.80" x2="339.30" y2="314.80" stroke="#444" stroke-width="0.7"/>
<line x1="331.30" y1="376.40" x2="339.30" y2="376.40" stroke="#444" stroke-width="0.7"/>
<circle cx="335.30" cy="312.30" r="3.1" fill="#1f1f1f"/>
<circle cx="335.30" cy="349.40" r="3.1" fill="#1f1f1f"/>
<circle cx="335.30" cy="373.70" r="3.1" fill="#1f1f1f"/>
<circle cx="351.90" cy="418.40" r="3.1" fill="#1f1f1f"/>
<circle cx="355.90" cy="413.30" r="3.1" fill="#1f1f1f"/>
<circle cx="359.60" cy="418.10" r="3.1" fill="#1f1f1f"/>
<circle cx="372.80" cy="427.00" r="3.1" fill="#1f1f1f"/>
<circle cx="376.80" cy="426.00" r="3.1" fill="#1f1f1f"/>
<circle cx="380.60" cy="426.80" r="3.1" fill="#1f1f1f"/>
<circle cx="393.40" cy="427.20" r="3.1" fill="#1f1f1f"/>
<circle cx="397.30" cy="424.60" r="3.1" fill="#1f1f1f"/>
<circle cx="401.30" cy="426.80" r="3.1" fill="#1f1f1f"/>
<line x1="411.10" y1="414.20" x2="425.10" y2="414.20" stroke="#222" stroke-width="1.25"/>
<line x1="418.10" y1="409.70" x2="418.10" y2="419.00" stroke="#444" stroke-width="0.7"/>
<line x1="414.10" y1="409.70" x2="422.10" y2="409.70" stroke="#444" stroke-width="0.7"/>
<line x1="414.10" y1="419.00" x2="422.10" y2="419.00" stroke="#444" stroke-width="0.7"/>
<circle cx="414.50" cy="410.70" r="3.1" fill="#1f1f1f"/>
<circle cx="422.00" cy="413.70" r="3.1" fill="#1f1f1f"/>
<circle cx="418.10" cy="419.80" r="3.1" fill="#1f1f1f"/>
<line x1="432.20" y1="379.50" x2="446.20" y2="379.50" stroke="#222" stroke-width="1.25"/>
<line x1="439.20" y1="372.00" x2="439.20" y2="387.40" stroke="#444" stroke-width="0.7"/>
<line x1="435.20" y1="372.00" x2="443.20" y2="372.00" stroke="#444" stroke-width="0.7"/>
<line x1="435.20" y1="387.40" x2="443.20" y2="387.40" stroke="#444" stroke-width="0.7"/>
<circle cx="439.20" cy="371.10" r="3.1" fill="#1f1f1f"/>
<circle cx="435.10" cy="384.40" r="3.1" fill="#1f1f1f"/>
<circle cx="443.00" cy="384.40" r="3.1" fill="#1f1f1f"/>
<text x="320.00" y="455.00" text-anchor="end" textLength="55.50" lengthAdjust="spacingAndGlyphs" transform="rotate(-60 320.00 455.00)">Wild type</text>
<text x="342.90" y="455.30" text-anchor="end" textLength="33.50" lengthAdjust="spacingAndGlyphs" transform="rotate(-60 342.90 455.30)">Δ<tspan font-style="italic">rinA</tspan></text>
<text x="363.70" y="455.60" text-anchor="end" textLength="39.30" lengthAdjust="spacingAndGlyphs" transform="rotate(-60 363.70 455.60)">Δ<tspan font-style="italic">gp39</tspan></text>
<text x="384.90" y="455.60" text-anchor="end" textLength="39.30" lengthAdjust="spacingAndGlyphs" transform="rotate(-60 384.90 455.60)">Δ<tspan font-style="italic">gp40</tspan></text>
<text x="405.40" y="455.60" text-anchor="end" textLength="39.30" lengthAdjust="spacingAndGlyphs" transform="rotate(-60 405.40 455.60)">Δ<tspan font-style="italic">gp41</tspan></text>
<text x="426.00" y="455.60" text-anchor="end" textLength="39.30" lengthAdjust="spacingAndGlyphs" transform="rotate(-60 426.00 455.60)">Δ<tspan font-style="italic">gp42</tspan></text>
<text x="446.50" y="455.60" text-anchor="end" textLength="39.30" lengthAdjust="spacingAndGlyphs" transform="rotate(-60 446.50 455.60)">Δ<tspan font-style="italic">gp43</tspan></text>
<text x="482.60" y="252.90" textLength="11.98" lengthAdjust="spacingAndGlyphs" font-weight="bold" font-size="18.5" fill="#151515" stroke="#151515" stroke-width="0.6" stroke-linejoin="round">d</text>
<line x1="527.00" y1="442.00" x2="685.00" y2="442.00" stroke="#4d4d4d" stroke-width="0.8"/>
<line x1="533.00" y1="289.80" x2="533.00" y2="442.00" stroke="#4d4d4d" stroke-width="0.8"/>
<line x1="527.00" y1="391.40" x2="533.00" y2="391.40" stroke="#4d4d4d" stroke-width="0.8"/>
<line x1="527.00" y1="340.80" x2="533.00" y2="340.80" stroke="#4d4d4d" stroke-width="0.8"/>
<line x1="527.00" y1="290.20" x2="533.00" y2="290.20" stroke="#4d4d4d" stroke-width="0.8"/>
<text x="521.70" y="445.70" text-anchor="end" textLength="6.60" lengthAdjust="spacingAndGlyphs" font-size="10.2">0</text>
<text x="521.70" y="395.10" text-anchor="end" textLength="12.50" lengthAdjust="spacingAndGlyphs" font-size="10.2">50</text>
<text x="521.70" y="344.50" text-anchor="end" textLength="18.10" lengthAdjust="spacingAndGlyphs" font-size="10.2">100</text>
<text x="521.70" y="293.90" text-anchor="end" textLength="17.40" lengthAdjust="spacingAndGlyphs" font-size="10.2">150</text>
<line x1="563.60" y1="442.00" x2="563.60" y2="447.60" stroke="#4d4d4d" stroke-width="0.8"/>
<line x1="609.10" y1="442.00" x2="609.10" y2="447.60" stroke="#4d4d4d" stroke-width="0.8"/>
<line x1="654.70" y1="442.00" x2="654.70" y2="447.60" stroke="#4d4d4d" stroke-width="0.8"/>
<text x="493.50" y="365.30" text-anchor="middle" textLength="100.50" lengthAdjust="spacingAndGlyphs" transform="rotate(-90 493.50 365.30)">% remaining NAD</text>
<text x="487.50" y="466.00" textLength="36.00" lengthAdjust="spacingAndGlyphs">pMhp:</text>
<text x="601.10" y="256.40" textLength="7.06" lengthAdjust="spacingAndGlyphs" font-style="italic">P</text>
<text x="614.50" y="256.20" text-anchor="middle" textLength="6.10" lengthAdjust="spacingAndGlyphs" font-size="11">&lt;</text>
<text x="621.30" y="256.40" textLength="41.90" lengthAdjust="spacingAndGlyphs">0.0001</text>
<line x1="608.80" y1="261.80" x2="655.60" y2="261.80" stroke="#777" stroke-width="1.0"/>
<text x="578.40" y="283.70" textLength="7.06" lengthAdjust="spacingAndGlyphs" font-style="italic">P</text>
<text x="591.80" y="283.50" text-anchor="middle" textLength="6.10" lengthAdjust="spacingAndGlyphs" font-size="11">&lt;</text>
<text x="598.60" y="283.70" textLength="41.90" lengthAdjust="spacingAndGlyphs">0.0001</text>
<line x1="563.30" y1="289.50" x2="654.90" y2="289.50" stroke="#4d4d4d" stroke-width="0.75"/>
<line x1="548.60" y1="338.60" x2="578.60" y2="338.60" stroke="#4a4a4a" stroke-width="1.0"/>
<line x1="563.60" y1="335.90" x2="563.60" y2="341.30" stroke="#444" stroke-width="0.7"/>
<line x1="556.10" y1="335.90" x2="571.10" y2="335.90" stroke="#444" stroke-width="0.7"/>
<line x1="556.10" y1="341.30" x2="571.10" y2="341.30" stroke="#444" stroke-width="0.7"/>
<circle cx="551.20" cy="341.60" r="3.1" fill="#1f1f1f"/>
<circle cx="563.80" cy="336.40" r="3.1" fill="#1f1f1f"/>
<circle cx="575.70" cy="337.40" r="3.1" fill="#1f1f1f"/>
<line x1="594.00" y1="320.70" x2="624.00" y2="320.70" stroke="#777" stroke-width="1.0"/>
<line x1="609.00" y1="312.10" x2="609.00" y2="329.40" stroke="#444" stroke-width="0.7"/>
<line x1="601.25" y1="312.10" x2="616.75" y2="312.10" stroke="#444" stroke-width="0.7"/>
<line x1="601.25" y1="329.40" x2="616.75" y2="329.40" stroke="#444" stroke-width="0.7"/>
<circle cx="603.00" cy="314.40" r="3.1" fill="#1f1f1f"/>
<circle cx="615.30" cy="318.00" r="3.1" fill="#1f1f1f"/>
<circle cx="609.00" cy="330.50" r="3.1" fill="#1f1f1f"/>
<line x1="639.45" y1="420.40" x2="669.95" y2="420.40" stroke="#4a4a4a" stroke-width="1.0"/>
<line x1="654.70" y1="412.20" x2="654.70" y2="427.90" stroke="#444" stroke-width="0.7"/>
<line x1="646.80" y1="412.20" x2="662.60" y2="412.20" stroke="#444" stroke-width="0.7"/>
<line x1="646.80" y1="427.90" x2="662.60" y2="427.90" stroke="#444" stroke-width="0.7"/>
<circle cx="654.70" cy="411.60" r="3.1" fill="#1f1f1f"/>
<circle cx="654.70" cy="420.90" r="3.1" fill="#1f1f1f"/>
<circle cx="654.70" cy="427.70" r="3.1" fill="#1f1f1f"/>
<text x="572.00" y="456.50" text-anchor="end" textLength="37.00" lengthAdjust="spacingAndGlyphs" transform="rotate(-66 572.00 456.50)">V273A</text>
<text x="616.70" y="458.50" text-anchor="end" textLength="35.00" lengthAdjust="spacingAndGlyphs" transform="rotate(-66 616.70 458.50)">W84K</text>
<text x="659.50" y="458.30" text-anchor="end" textLength="54.50" lengthAdjust="spacingAndGlyphs" transform="rotate(-66 659.50 458.30)">Wild type</text>
<text x="-0.10" y="532.20" textLength="10.90" lengthAdjust="spacingAndGlyphs" font-weight="bold" font-size="16.2" fill="#151515" stroke="#151515" stroke-width="0.6" stroke-linejoin="round">e</text>
<rect x="67.70" y="585.60" width="13.50" height="121.80" fill="#97989b"/>
<rect x="87.60" y="635.00" width="13.50" height="72.40" fill="#97989b"/>
<rect x="120.10" y="584.30" width="13.70" height="123.10" fill="#97989b"/>
<rect x="140.40" y="586.60" width="13.40" height="120.80" fill="#97989b"/>
<rect x="173.60" y="584.30" width="13.30" height="123.10" fill="#97989b"/>
<rect x="193.40" y="584.30" width="13.30" height="123.10" fill="#97989b"/>
<line x1="55.00" y1="707.40" x2="213.00" y2="707.40" stroke="#4d4d4d" stroke-width="0.8"/>
<line x1="61.00" y1="554.60" x2="61.00" y2="707.40" stroke="#4d4d4d" stroke-width="0.8"/>
<line x1="55.00" y1="656.60" x2="61.00" y2="656.60" stroke="#4d4d4d" stroke-width="0.8"/>
<line x1="55.00" y1="605.80" x2="61.00" y2="605.80" stroke="#4d4d4d" stroke-width="0.8"/>
<line x1="55.00" y1="555.00" x2="61.00" y2="555.00" stroke="#4d4d4d" stroke-width="0.8"/>
<text x="49.70" y="705.80" text-anchor="end" textLength="3.90" lengthAdjust="spacingAndGlyphs" font-size="6.3">4</text>
<text x="45.50" y="710.50" text-anchor="end" textLength="11.20" lengthAdjust="spacingAndGlyphs" font-size="10.2">10</text>
<text x="49.70" y="655.00" text-anchor="end" textLength="3.90" lengthAdjust="spacingAndGlyphs" font-size="6.3">6</text>
<text x="45.50" y="659.70" text-anchor="end" textLength="11.20" lengthAdjust="spacingAndGlyphs" font-size="10.2">10</text>
<text x="49.70" y="604.20" text-anchor="end" textLength="3.90" lengthAdjust="spacingAndGlyphs" font-size="6.3">8</text>
<text x="45.50" y="608.90" text-anchor="end" textLength="11.20" lengthAdjust="spacingAndGlyphs" font-size="10.2">10</text>
<text x="49.70" y="553.40" text-anchor="end" textLength="7.80" lengthAdjust="spacingAndGlyphs" font-size="6.3">10</text>
<text x="41.60" y="558.10" text-anchor="end" textLength="11.20" lengthAdjust="spacingAndGlyphs" font-size="10.2">10</text>
<line x1="74.50" y1="707.40" x2="74.50" y2="712.80" stroke="#4d4d4d" stroke-width="0.8"/>
<line x1="94.30" y1="707.40" x2="94.30" y2="712.80" stroke="#4d4d4d" stroke-width="0.8"/>
<line x1="127.00" y1="707.40" x2="127.00" y2="712.80" stroke="#4d4d4d" stroke-width="0.8"/>
<line x1="146.80" y1="707.40" x2="146.80" y2="712.80" stroke="#4d4d4d" stroke-width="0.8"/>
<line x1="180.20" y1="707.40" x2="180.20" y2="712.80" stroke="#4d4d4d" stroke-width="0.8"/>
<line x1="199.90" y1="707.40" x2="199.90" y2="712.80" stroke="#4d4d4d" stroke-width="0.8"/>
<text x="21.60" y="631.00" text-anchor="middle" textLength="49.30" lengthAdjust="spacingAndGlyphs" transform="rotate(-90 21.60 631.00)">CFU ml<tspan font-size="7.2" dy="-6.6">−1</tspan></text>
<text x="59.30" y="538.60" textLength="7.06" lengthAdjust="spacingAndGlyphs" font-style="italic">P</text>
<text x="72.70" y="538.40" text-anchor="middle" textLength="6.10" lengthAdjust="spacingAndGlyphs" font-size="11">=</text>
<text x="79.50" y="538.60" textLength="40.80" lengthAdjust="spacingAndGlyphs">0.0109</text>
<line x1="74.50" y1="543.50" x2="95.10" y2="543.50" stroke="#4d4d4d" stroke-width="0.75"/>
<line x1="74.50" y1="578.00" x2="74.50" y2="586.00" stroke="#8a8a8a" stroke-width="0.7"/>
<line x1="74.50" y1="578.00" x2="78.00" y2="578.00" stroke="#8a8a8a" stroke-width="0.7"/>
<circle cx="70.70" cy="577.30" r="2.9" fill="#1f1f1f"/>
<circle cx="70.70" cy="584.90" r="2.9" fill="#1f1f1f"/>
<circle cx="77.90" cy="583.20" r="2.9" fill="#1f1f1f"/>
<circle cx="91.00" cy="636.00" r="2.9" fill="#1f1f1f"/>
<circle cx="94.60" cy="633.40" r="2.9" fill="#1f1f1f"/>
<circle cx="98.20" cy="634.60" r="2.9" fill="#1f1f1f"/>
<circle cx="123.30" cy="584.30" r="2.9" fill="#1f1f1f"/>
<circle cx="126.80" cy="581.30" r="2.9" fill="#1f1f1f"/>
<circle cx="130.70" cy="583.10" r="2.9" fill="#1f1f1f"/>
<line x1="147.10" y1="582.50" x2="147.10" y2="590.20" stroke="#d8d8d8" stroke-width="0.8"/>
<line x1="145.00" y1="582.50" x2="149.60" y2="582.50" stroke="#c8c8c8" stroke-width="0.8"/>
<line x1="145.00" y1="590.20" x2="149.60" y2="590.20" stroke="#d8d8d8" stroke-width="0.8"/>
<circle cx="143.50" cy="581.80" r="2.9" fill="#1f1f1f"/>
<circle cx="150.60" cy="586.30" r="2.9" fill="#1f1f1f"/>
<circle cx="143.50" cy="590.00" r="2.9" fill="#1f1f1f"/>
<circle cx="176.60" cy="584.60" r="2.9" fill="#1f1f1f"/>
<circle cx="180.10" cy="582.40" r="2.9" fill="#1f1f1f"/>
<circle cx="183.60" cy="583.00" r="2.9" fill="#1f1f1f"/>
<circle cx="196.40" cy="584.10" r="2.9" fill="#1f1f1f"/>
<circle cx="199.90" cy="582.70" r="2.9" fill="#1f1f1f"/>
<circle cx="203.40" cy="583.20" r="2.9" fill="#1f1f1f"/>
<text x="49.00" y="728.70" text-anchor="end" textLength="48.50" lengthAdjust="spacingAndGlyphs" font-style="italic">thsB1/B2</text>
<text x="49.00" y="744.00" text-anchor="end" textLength="24.50" lengthAdjust="spacingAndGlyphs" font-style="italic">thsA</text>
<text x="49.00" y="759.40" text-anchor="end" textLength="25.00" lengthAdjust="spacingAndGlyphs" font-style="italic">mhp</text>
<text x="74.50" y="727.20" text-anchor="middle" font-size="9.6" fill="#2a2a2a" stroke="#2a2a2a" stroke-width="0.3">+</text>
<text x="94.30" y="727.20" text-anchor="middle" font-size="9.6" fill="#2a2a2a" stroke="#2a2a2a" stroke-width="0.3">+</text>
<text x="127.00" y="727.20" text-anchor="middle" font-size="9.6" fill="#2a2a2a" stroke="#2a2a2a" stroke-width="0.3">+</text>
<text x="146.80" y="727.20" text-anchor="middle" font-size="9.6" fill="#2a2a2a" stroke="#2a2a2a" stroke-width="0.3">+</text>
<text x="180.20" y="727.20" text-anchor="middle" font-size="9.6" fill="#2a2a2a" stroke="#2a2a2a" stroke-width="0.3">+</text>
<text x="199.90" y="727.20" text-anchor="middle" font-size="9.6" fill="#2a2a2a" stroke="#2a2a2a" stroke-width="0.3">+</text>
<text x="74.50" y="743.50" text-anchor="middle" textLength="5.00" lengthAdjust="spacingAndGlyphs" font-size="9.6" fill="#777" stroke="#777" stroke-width="0.35">–</text>
<text x="94.30" y="743.90" text-anchor="middle" font-size="9.6" fill="#2a2a2a" stroke="#2a2a2a" stroke-width="0.3">+</text>
<text x="127.00" y="743.50" text-anchor="middle" textLength="5.00" lengthAdjust="spacingAndGlyphs" font-size="9.6" fill="#777" stroke="#777" stroke-width="0.35">–</text>
<text x="146.80" y="743.90" text-anchor="middle" font-size="9.6" fill="#2a2a2a" stroke="#2a2a2a" stroke-width="0.3">+</text>
<text x="180.20" y="743.50" text-anchor="middle" textLength="5.00" lengthAdjust="spacingAndGlyphs" font-size="9.6" fill="#777" stroke="#777" stroke-width="0.35">–</text>
<text x="199.90" y="743.90" text-anchor="middle" font-size="9.6" fill="#2a2a2a" stroke="#2a2a2a" stroke-width="0.3">+</text>
<text x="57.80" y="759.50" textLength="54.30" lengthAdjust="spacingAndGlyphs">Wild type</text>
<text x="120.70" y="759.50" textLength="36.20" lengthAdjust="spacingAndGlyphs">V273A</text>
<text x="176.60" y="759.50" textLength="29.60" lengthAdjust="spacingAndGlyphs">None</text>
<text x="246.80" y="532.20" textLength="6.53" lengthAdjust="spacingAndGlyphs" font-weight="bold" font-size="18.5" fill="#151515" stroke="#151515" stroke-width="0.6" stroke-linejoin="round">f</text>
<line x1="292.15" y1="706.50" x2="450.45" y2="706.50" stroke="#4d4d4d" stroke-width="0.75"/>
<line x1="298.45" y1="554.40" x2="298.45" y2="712.80" stroke="#4d4d4d" stroke-width="0.75"/>
<line x1="328.85" y1="706.50" x2="328.85" y2="712.80" stroke="#4d4d4d" stroke-width="0.75"/>
<line x1="359.25" y1="706.50" x2="359.25" y2="712.80" stroke="#4d4d4d" stroke-width="0.75"/>
<line x1="389.65" y1="706.50" x2="389.65" y2="712.80" stroke="#4d4d4d" stroke-width="0.75"/>
<line x1="420.05" y1="706.50" x2="420.05" y2="712.80" stroke="#4d4d4d" stroke-width="0.75"/>
<line x1="450.45" y1="706.50" x2="450.45" y2="712.80" stroke="#4d4d4d" stroke-width="0.75"/>
<line x1="292.15" y1="668.48" x2="298.45" y2="668.48" stroke="#4d4d4d" stroke-width="0.75"/>
<line x1="292.15" y1="630.45" x2="298.45" y2="630.45" stroke="#4d4d4d" stroke-width="0.75"/>
<line x1="292.15" y1="592.42" x2="298.45" y2="592.42" stroke="#4d4d4d" stroke-width="0.75"/>
<line x1="292.15" y1="554.40" x2="298.45" y2="554.40" stroke="#4d4d4d" stroke-width="0.75"/>
<text x="298.45" y="726.80" text-anchor="middle" textLength="6.60" lengthAdjust="spacingAndGlyphs" font-size="10.2">0</text>
<text x="328.85" y="726.80" text-anchor="middle" textLength="5.90" lengthAdjust="spacingAndGlyphs" font-size="10.2">5</text>
<text x="359.25" y="726.80" text-anchor="middle" textLength="11.50" lengthAdjust="spacingAndGlyphs" font-size="10.2">10</text>
<text x="389.65" y="726.80" text-anchor="middle" textLength="10.80" lengthAdjust="spacingAndGlyphs" font-size="10.2">15</text>
<text x="420.05" y="726.80" text-anchor="middle" textLength="12.60" lengthAdjust="spacingAndGlyphs" font-size="10.2">20</text>
<text x="450.45" y="726.80" text-anchor="middle" textLength="11.90" lengthAdjust="spacingAndGlyphs" font-size="10.2">25</text>
<text x="374.45" y="745.60" text-anchor="middle" textLength="46.30" lengthAdjust="spacingAndGlyphs">Time (h)</text>
<line x1="470.15" y1="706.50" x2="628.45" y2="706.50" stroke="#4d4d4d" stroke-width="0.75"/>
<line x1="476.45" y1="554.40" x2="476.45" y2="712.80" stroke="#4d4d4d" stroke-width="0.75"/>
<line x1="506.85" y1="706.50" x2="506.85" y2="712.80" stroke="#4d4d4d" stroke-width="0.75"/>
<line x1="537.25" y1="706.50" x2="537.25" y2="712.80" stroke="#4d4d4d" stroke-width="0.75"/>
<line x1="567.65" y1="706.50" x2="567.65" y2="712.80" stroke="#4d4d4d" stroke-width="0.75"/>
<line x1="598.05" y1="706.50" x2="598.05" y2="712.80" stroke="#4d4d4d" stroke-width="0.75"/>
<line x1="628.45" y1="706.50" x2="628.45" y2="712.80" stroke="#4d4d4d" stroke-width="0.75"/>
<line x1="470.15" y1="668.48" x2="476.45" y2="668.48" stroke="#4d4d4d" stroke-width="0.75"/>
<line x1="470.15" y1="630.45" x2="476.45" y2="630.45" stroke="#4d4d4d" stroke-width="0.75"/>
<line x1="470.15" y1="592.42" x2="476.45" y2="592.42" stroke="#4d4d4d" stroke-width="0.75"/>
<line x1="470.15" y1="554.40" x2="476.45" y2="554.40" stroke="#4d4d4d" stroke-width="0.75"/>
<text x="476.45" y="726.80" text-anchor="middle" textLength="6.60" lengthAdjust="spacingAndGlyphs" font-size="10.2">0</text>
<text x="506.85" y="726.80" text-anchor="middle" textLength="5.90" lengthAdjust="spacingAndGlyphs" font-size="10.2">5</text>
<text x="537.25" y="726.80" text-anchor="middle" textLength="11.50" lengthAdjust="spacingAndGlyphs" font-size="10.2">10</text>
<text x="567.65" y="726.80" text-anchor="middle" textLength="10.80" lengthAdjust="spacingAndGlyphs" font-size="10.2">15</text>
<text x="598.05" y="726.80" text-anchor="middle" textLength="12.60" lengthAdjust="spacingAndGlyphs" font-size="10.2">20</text>
<text x="628.45" y="726.80" text-anchor="middle" textLength="11.90" lengthAdjust="spacingAndGlyphs" font-size="10.2">25</text>
<text x="552.45" y="745.60" text-anchor="middle" textLength="46.30" lengthAdjust="spacingAndGlyphs">Time (h)</text>
<text x="286.30" y="710.20" text-anchor="end" textLength="6.60" lengthAdjust="spacingAndGlyphs" font-size="10.2">0</text>
<text x="286.30" y="672.18" text-anchor="end" textLength="15.40" lengthAdjust="spacingAndGlyphs" font-size="10.2">0.5</text>
<text x="286.30" y="634.15" text-anchor="end" textLength="14.40" lengthAdjust="spacingAndGlyphs" font-size="10.2">1.0</text>
<text x="286.30" y="596.12" text-anchor="end" textLength="13.70" lengthAdjust="spacingAndGlyphs" font-size="10.2">1.5</text>
<text x="286.30" y="558.10" text-anchor="end" textLength="15.50" lengthAdjust="spacingAndGlyphs" font-size="10.2">2.0</text>
<text x="257.20" y="631.00" text-anchor="middle" textLength="35.20" lengthAdjust="spacingAndGlyphs" font-size="11.8" transform="rotate(-90 257.20 631.00)">OD<tspan font-size="8.2" dy="4.2">600</tspan></text>
<text x="374.80" y="539.30" text-anchor="middle" textLength="33.00" lengthAdjust="spacingAndGlyphs">pMhp</text>
<text x="523.30" y="537.80" textLength="59.00" lengthAdjust="spacingAndGlyphs">pMhp<tspan font-size="7.6" dy="-6.2">V273A</tspan></text>
<path d="M315,670.43h1V677.21h-1zM316,663.66h1V678.22h-1zM317,658.16h1V678.46h-1zM318,654.17h1V678.68h-1zM320,647.85h1V678.52h-1zM322,647.96h1V678.29h-1zM323,647.61h1V677.61h-1zM325,651.32h1V675.53h-1zM326,653.84h1V675.00h-1zM328,654.30h1V672.78h-1zM329,654.22h1V672.22h-1zM331,653.91h1V670.45h-1zM333,654.92h1V669.85h-1zM335,656.00h1V669.68h-1zM337,656.19h1V669.10h-1zM338,656.76h1V669.44h-1zM340,657.09h1V669.40h-1zM341,656.95h1V669.85h-1zM343,657.41h1V670.26h-1zM345,656.96h1V671.54h-1zM346,656.98h1V671.79h-1zM347,657.11h1V671.96h-1zM348,657.40h1V672.65h-1zM350,657.20h1V673.61h-1zM352,657.82h1V674.24h-1zM353,657.62h1V674.48h-1zM355,657.44h1V674.69h-1zM356,657.96h1V675.17h-1zM357,657.98h1V675.13h-1zM358,657.85h1V675.71h-1zM359,657.79h1V675.85h-1zM361,657.89h1V676.07h-1zM362,658.25h1V676.77h-1zM364,658.02h1V677.22h-1zM365,658.24h1V677.24h-1zM366,658.44h1V677.26h-1zM367,658.23h1V677.67h-1zM369,657.85h1V677.84h-1zM371,657.67h1V677.82h-1zM373,657.61h1V678.10h-1zM374,658.01h1V678.64h-1zM375,658.01h1V678.43h-1zM376,657.74h1V679.08h-1zM377,658.05h1V678.68h-1zM379,657.55h1V678.81h-1zM380,657.41h1V679.34h-1zM381,657.77h1V679.38h-1zM383,657.79h1V679.07h-1zM385,657.40h1V679.22h-1zM387,657.80h1V679.47h-1zM389,657.40h1V679.52h-1zM390,657.69h1V679.51h-1zM391,657.58h1V679.48h-1zM393,657.33h1V679.57h-1zM395,657.75h1V679.86h-1zM396,658.00h1V679.71h-1zM398,658.20h1V679.87h-1zM399,657.77h1V680.19h-1zM401,658.24h1V680.29h-1zM403,658.09h1V680.37h-1zM404,658.49h1V680.25h-1zM406,657.27h1V680.76h-1zM408,654.31h1V681.00h-1zM409,655.03h1V681.44h-1zM411,654.40h1V681.55h-1zM412,653.48h1V680.73h-1zM414,651.43h1V682.41h-1zM416,651.93h1V682.61h-1zM418,649.86h1V682.27h-1zM420,651.84h1V683.04h-1zM422,648.58h1V683.94h-1zM423,649.89h1V683.65h-1zM425,646.74h1V683.38h-1zM426,645.69h1V683.60h-1zM427,648.10h1V684.00h-1zM428,646.81h1V683.50h-1zM429,646.23h1V684.87h-1zM430,646.01h1V684.74h-1zM431,645.66h1V684.26h-1zM432,647.64h1V685.45h-1zM433,647.60h1V685.39h-1zM434,646.02h1V684.80h-1zM435,644.62h1V685.14h-1zM437,646.12h1V685.46h-1zM438,647.02h1V685.49h-1zM439,648.38h1V685.17h-1zM440,647.82h1V685.70h-1zM441,648.70h1V685.13h-1z" fill="#2fa89b" opacity="0.88"/>
<path d="M314,674.76h1V675.75h-1zM319,650.51h1V678.68h-1zM321,647.52h1V678.63h-1zM324,647.54h1V676.80h-1zM327,654.85h1V673.64h-1zM330,653.94h1V671.27h-1zM332,654.09h1V670.10h-1zM334,655.66h1V669.92h-1zM336,655.93h1V669.81h-1zM339,656.85h1V668.87h-1zM342,657.38h1V670.31h-1zM344,657.21h1V670.89h-1zM349,657.23h1V672.83h-1zM351,657.73h1V673.90h-1zM354,657.51h1V674.30h-1zM360,657.81h1V676.25h-1zM363,658.03h1V676.97h-1zM368,658.21h1V677.64h-1zM370,657.73h1V678.18h-1zM372,658.23h1V678.14h-1zM378,658.04h1V679.30h-1zM382,657.51h1V678.95h-1zM384,657.47h1V679.26h-1zM386,657.67h1V679.33h-1zM388,657.70h1V679.59h-1zM392,657.34h1V679.92h-1zM394,657.88h1V680.12h-1zM397,657.76h1V680.18h-1zM400,657.75h1V680.20h-1zM402,658.29h1V680.38h-1zM405,655.31h1V680.39h-1zM407,654.47h1V681.32h-1zM410,652.85h1V680.85h-1zM413,653.11h1V681.67h-1zM415,650.24h1V681.20h-1zM417,649.40h1V681.41h-1zM419,648.85h1V682.06h-1zM421,647.81h1V683.70h-1zM424,647.03h1V683.67h-1zM436,647.25h1V685.67h-1z" fill="#2fa89b" opacity="0.6"/>
<path d="M298.68,695.24 L299.18,694.81 L299.68,694.40 L300.18,694.00 L300.68,693.59 L301.18,693.17 L301.68,692.72 L302.18,692.24 L302.68,691.71 L303.18,691.13 L303.68,690.50 L304.18,689.83 L304.68,689.13 L305.18,688.42 L305.68,687.69 L306.18,686.97 L306.68,686.26 L307.18,685.56 L307.68,684.89 L308.18,684.25 L308.68,683.61 L309.18,683.00 L309.68,682.38 L310.18,681.78 L310.68,681.16 L311.18,680.54 L311.68,679.91 L312.18,679.26 L312.68,678.59 L313.18,677.90 L313.68,677.17 L314.18,676.40 L314.68,675.60 L315.18,674.72 L315.68,673.71 L316.18,672.62 L316.68,671.50 L317.18,670.40 L317.68,669.38 L318.18,668.40 L318.68,667.34 L319.18,666.26 L319.68,665.28 L320.18,664.46 L320.68,663.90 L321.18,663.67 L321.68,663.55 L322.18,663.45 L322.68,663.36 L323.18,663.29 L323.68,663.23 L324.18,663.18 L324.68,663.12 L325.18,663.07 L325.68,663.02 L326.18,662.95 L326.68,662.88 L327.18,662.80 L327.68,662.72 L328.18,662.64 L328.68,662.56 L329.18,662.49 L329.68,662.42 L330.18,662.36 L330.68,662.31 L331.18,662.27 L331.68,662.24 L332.18,662.23 L332.68,662.25 L333.18,662.31 L333.68,662.39 L334.18,662.51 L334.68,662.64 L335.18,662.79 L335.68,662.96 L336.18,663.13 L336.68,663.31 L337.18,663.49 L337.68,663.67 L338.18,663.83 L338.68,663.98 L339.18,664.12 L339.68,664.23 L340.18,664.33 L340.68,664.43 L341.18,664.53 L341.68,664.63 L342.18,664.72 L342.68,664.81 L343.18,664.91 L343.68,665.00 L344.18,665.08 L344.68,665.17 L345.18,665.26 L345.68,665.34 L346.18,665.42 L346.68,665.50 L347.18,665.57 L347.68,665.65 L348.18,665.72 L348.68,665.79 L349.18,665.86 L349.68,665.93 L350.18,665.99 L350.68,666.05 L351.18,666.11 L351.68,666.17 L352.18,666.22 L352.68,666.27 L353.18,666.32 L353.68,666.37 L354.18,666.42 L354.68,666.46 L355.18,666.51 L355.68,666.55 L356.18,666.60 L356.68,666.64 L357.18,666.68 L357.68,666.72 L358.18,666.75 L358.68,666.79 L359.18,666.83 L359.68,666.87 L360.18,666.90 L360.68,666.94 L361.18,666.97 L361.68,667.01 L362.18,667.04 L362.68,667.08 L363.18,667.11 L363.68,667.14 L364.18,667.18 L364.68,667.21 L365.18,667.25 L365.68,667.28 L366.18,667.32 L366.68,667.35 L367.18,667.39 L367.68,667.42 L368.18,667.46 L368.68,667.50 L369.18,667.53 L369.68,667.56 L370.18,667.60 L370.68,667.63 L371.18,667.66 L371.68,667.69 L372.18,667.72 L372.68,667.75 L373.18,667.78 L373.68,667.81 L374.18,667.83 L374.68,667.86 L375.18,667.88 L375.68,667.90 L376.18,667.92 L376.68,667.94 L377.18,667.95 L377.68,667.97 L378.18,667.98 L378.68,668.00 L379.18,668.01 L379.68,668.02 L380.18,668.04 L380.68,668.05 L381.18,668.07 L381.68,668.08 L382.18,668.09 L382.68,668.10 L383.18,668.11 L383.68,668.12 L384.18,668.13 L384.68,668.14 L385.18,668.15 L385.68,668.16 L386.18,668.17 L386.68,668.17 L387.18,668.18 L387.68,668.18 L388.18,668.19 L388.68,668.19 L389.18,668.19 L389.68,668.19 L390.18,668.19 L390.68,668.18 L391.18,668.18 L391.68,668.18 L392.18,668.17 L392.68,668.16 L393.18,668.16 L393.68,668.15 L394.18,668.14 L394.68,668.13 L395.18,668.12 L395.68,668.11 L396.18,668.09 L396.68,668.08 L397.18,668.07 L397.68,668.06 L398.18,668.04 L398.68,668.03 L399.18,668.01 L399.68,668.00 L400.18,667.98 L400.68,667.97 L401.18,667.95 L401.68,667.94 L402.18,667.92 L402.68,667.91 L403.18,667.88 L403.68,667.86 L404.18,667.84 L404.68,667.81 L405.18,667.79 L405.68,667.76 L406.18,667.73 L406.68,667.70 L407.18,667.66 L407.68,667.63 L408.18,667.60 L408.68,667.56 L409.18,667.53 L409.68,667.49 L410.18,667.46 L410.68,667.42 L411.18,667.39 L411.68,667.35 L412.18,667.32 L412.68,667.29 L413.18,667.25 L413.68,667.22 L414.18,667.19 L414.68,667.16 L415.18,667.12 L415.68,667.08 L416.18,667.04 L416.68,667.00 L417.18,666.96 L417.68,666.92 L418.18,666.87 L418.68,666.83 L419.18,666.79 L419.68,666.74 L420.18,666.70 L420.68,666.65 L421.18,666.61 L421.68,666.57 L422.18,666.53 L422.68,666.49 L423.18,666.45 L423.68,666.41 L424.18,666.38 L424.68,666.35 L425.18,666.32 L425.68,666.29 L426.18,666.27 L426.68,666.25 L427.18,666.23 L427.68,666.22 L428.18,666.21 L428.68,666.20 L429.18,666.20 L429.68,666.20 L430.18,666.20 L430.68,666.20 L431.18,666.20 L431.68,666.20 L432.18,666.20 L432.68,666.20 L433.18,666.20 L433.68,666.20 L434.18,666.20 L434.68,666.20 L435.18,666.20 L435.68,666.20 L436.18,666.20 L436.68,666.20 L437.18,666.20 L437.68,666.20 L438.18,666.20 L438.68,666.20 L439.18,666.20 L439.68,666.20 L440.18,666.20 L440.68,666.20 L441.18,666.20 L441.36,666.20" fill="none" stroke="#2fa89b" stroke-width="2.0" stroke-linejoin="round" stroke-linecap="round"/>
<path d="M298.68,695.24 L299.18,694.87 L299.68,694.54 L300.18,694.21 L300.68,693.86 L301.18,693.46 L301.68,692.99 L302.18,692.42 L302.68,691.69 L303.18,690.81 L303.68,689.80 L304.18,688.70 L304.68,687.54 L305.18,686.29 L305.68,684.85 L306.18,683.25 L306.68,681.53 L307.18,679.76 L307.68,677.95 L308.18,676.01 L308.68,673.98 L309.18,671.90 L309.68,669.85 L310.18,667.85 L310.68,665.85 L311.18,663.85 L311.68,661.85 L312.18,659.85 L312.68,657.83 L313.18,655.79 L313.68,653.76 L314.18,651.75 L314.68,649.82 L315.18,647.93 L315.68,646.05 L316.18,644.22 L316.68,642.50 L317.18,640.96 L317.68,639.59 L318.18,638.29 L318.68,637.07 L319.18,635.95 L319.68,634.95 L320.18,634.08 L320.68,633.35 L321.18,632.72 L321.68,632.16 L322.18,631.63 L322.68,631.11 L323.18,630.58 L323.68,630.00 L324.18,629.39 L324.68,628.77 L325.18,628.14 L325.68,627.52 L326.18,626.91 L326.68,626.33 L327.18,625.79 L327.68,625.29 L328.18,624.80 L328.68,624.32 L329.18,623.85 L329.68,623.40 L330.18,622.96 L330.68,622.53 L331.18,622.11 L331.68,621.70 L332.18,621.29 L332.68,620.89 L333.18,620.49 L333.68,620.09 L334.18,619.70 L334.68,619.31 L335.18,618.92 L335.68,618.54 L336.18,618.17 L336.68,617.80 L337.18,617.44 L337.68,617.09 L338.18,616.75 L338.68,616.42 L339.18,616.10 L339.68,615.80 L340.18,615.50 L340.68,615.22 L341.18,614.94 L341.68,614.66 L342.18,614.39 L342.68,614.13 L343.18,613.88 L343.68,613.62 L344.18,613.38 L344.68,613.13 L345.18,612.89 L345.68,612.65 L346.18,612.42 L346.68,612.19 L347.18,611.95 L347.68,611.72 L348.18,611.50 L348.68,611.27 L349.18,611.04 L349.68,610.81 L350.18,610.58 L350.68,610.35 L351.18,610.12 L351.68,609.90 L352.18,609.67 L352.68,609.45 L353.18,609.23 L353.68,609.01 L354.18,608.79 L354.68,608.58 L355.18,608.36 L355.68,608.15 L356.18,607.95 L356.68,607.74 L357.18,607.54 L357.68,607.34 L358.18,607.14 L358.68,606.95 L359.18,606.76 L359.68,606.57 L360.18,606.39 L360.68,606.21 L361.18,606.03 L361.68,605.86 L362.18,605.68 L362.68,605.51 L363.18,605.34 L363.68,605.18 L364.18,605.02 L364.68,604.86 L365.18,604.70 L365.68,604.54 L366.18,604.39 L366.68,604.24 L367.18,604.09 L367.68,603.94 L368.18,603.79 L368.68,603.64 L369.18,603.79 L369.68,603.34 L370.18,603.20 L370.68,603.05 L371.18,602.92 L371.68,601.95 L372.18,602.66 L372.68,602.91 L373.18,602.42 L373.68,602.31 L374.18,602.22 L374.68,602.13 L375.18,602.04 L375.68,601.95 L376.18,601.87 L376.68,601.79 L377.18,601.71 L377.68,601.23 L378.18,601.56 L378.68,601.49 L379.18,601.43 L379.68,600.63 L380.18,599.00 L380.68,601.27 L381.18,601.23 L381.68,601.20 L382.18,601.29 L382.68,599.08 L383.18,601.12 L383.68,601.10 L384.18,600.22 L384.68,601.05 L385.18,599.36 L385.68,598.75 L386.18,600.15 L386.68,600.98 L387.18,598.01 L387.68,600.40 L388.18,599.07 L388.68,600.81 L389.18,600.94 L389.68,598.31 L390.18,599.92 L390.68,600.94 L391.18,598.53 L391.68,600.94 L392.18,598.96 L392.68,601.37 L393.18,599.98 L393.68,599.44 L394.18,600.94 L394.68,600.94 L395.18,600.94 L395.68,601.03 L396.18,599.65 L396.68,600.94 L397.18,600.94 L397.68,600.94 L398.18,600.94 L398.68,600.94 L399.18,600.94 L399.68,599.67 L400.18,600.94 L400.68,600.94 L401.18,600.94 L401.68,600.83 L402.18,600.94 L402.68,600.94 L403.18,600.18 L403.68,600.94 L404.18,600.94 L404.68,600.57 L405.18,600.94 L405.68,600.94 L406.18,599.88 L406.68,600.94 L407.18,600.94 L407.68,600.94 L408.18,601.40 L408.68,600.94 L409.18,600.94 L409.68,600.94 L410.18,600.94 L410.68,601.14 L411.18,600.94 L411.68,600.94 L412.18,600.94 L412.68,600.94 L413.18,600.06 L413.68,600.94 L414.18,600.94 L414.68,600.94 L415.18,600.11 L415.68,600.94 L416.18,600.94 L416.68,600.71 L417.18,600.94 L417.68,601.24 L418.18,600.78 L418.68,600.94 L419.18,600.94 L419.68,600.94 L420.18,600.94 L420.68,600.94 L421.18,600.94 L421.68,600.94 L422.18,600.94 L422.68,600.94 L423.18,600.82 L423.68,600.94 L424.18,600.94 L424.68,600.94 L425.18,600.94 L425.68,600.94 L426.18,600.54 L426.68,599.89 L427.18,600.94 L427.68,600.48 L428.18,600.94 L428.68,600.85 L429.18,601.04 L429.68,600.94 L430.18,600.94 L430.68,600.60 L431.18,600.94 L431.68,600.94 L432.18,601.27 L432.68,600.94 L433.18,600.94 L433.68,600.94 L434.18,601.51 L434.68,600.94 L435.18,600.94 L435.68,600.94 L436.18,601.14 L436.68,600.94 L437.18,600.31 L437.68,600.94 L438.18,601.35 L438.68,600.94 L439.18,600.94 L439.68,600.60 L440.18,600.94 L440.68,600.14 L441.18,600.94 L441.36,600.94" fill="none" stroke="#e1cf7b" stroke-width="2.0" stroke-linejoin="round" stroke-linecap="round"/>
<path d="M493,636.06h1V645.35h-1zM494,632.48h1V643.36h-1zM495,628.51h1V642.75h-1zM496,626.96h1V641.41h-1zM498,626.04h1V638.14h-1zM499,627.63h1V636.82h-1zM501,629.79h1V634.32h-1zM502,630.13h1V632.95h-1z" fill="#2fa89b" opacity="0.92"/>
<path d="M497,625.60h1V640.05h-1zM500,628.61h1V635.70h-1zM503,629.05h1V630.10h-1z" fill="#2fa89b" opacity="0.6"/>
<path d="M556,600.68h1V601.60h-1zM557,600.35h1V601.55h-1zM558,600.22h1V601.29h-1zM559,600.32h1V601.48h-1zM560,600.09h1V601.32h-1zM561,599.88h1V601.48h-1zM562,599.93h1V601.42h-1zM563,599.70h1V601.28h-1zM564,599.49h1V601.57h-1zM565,599.37h1V601.33h-1zM566,599.17h1V601.24h-1zM567,599.07h1V601.33h-1zM568,599.02h1V601.40h-1zM569,598.96h1V601.38h-1zM570,598.91h1V601.26h-1zM572,598.81h1V601.52h-1zM573,598.51h1V601.30h-1zM575,598.60h1V601.45h-1zM577,598.93h1V601.73h-1zM578,598.66h1V601.80h-1zM579,598.92h1V601.74h-1zM581,598.93h1V601.74h-1zM582,598.96h1V601.74h-1zM583,598.91h1V601.70h-1zM585,598.91h1V601.71h-1zM586,598.94h1V601.88h-1zM587,599.10h1V601.72h-1zM588,598.97h1V601.96h-1zM589,599.13h1V601.92h-1zM590,599.20h1V601.83h-1zM591,599.09h1V601.84h-1zM592,599.12h1V602.23h-1zM593,599.26h1V602.09h-1zM594,599.25h1V601.93h-1zM595,599.16h1V602.08h-1zM596,599.08h1V602.17h-1zM597,599.25h1V602.09h-1zM598,599.13h1V602.26h-1zM599,599.10h1V602.39h-1zM600,599.20h1V602.21h-1zM601,599.41h1V602.38h-1zM602,599.17h1V602.28h-1zM603,599.29h1V602.44h-1zM604,599.10h1V602.50h-1zM605,599.31h1V602.27h-1zM606,599.12h1V602.35h-1zM607,599.37h1V602.56h-1zM608,599.51h1V602.57h-1zM609,599.42h1V602.64h-1zM610,599.46h1V602.48h-1zM612,599.30h1V602.47h-1zM613,599.55h1V602.84h-1zM614,599.41h1V602.83h-1zM615,599.50h1V602.64h-1zM616,599.47h1V602.70h-1zM618,599.56h1V602.65h-1z" fill="#2fa89b" opacity="0.9"/>
<path d="M571,598.82h1V601.55h-1zM574,598.78h1V601.43h-1zM576,598.87h1V601.52h-1zM580,598.94h1V601.83h-1zM584,598.76h1V601.82h-1zM611,599.39h1V602.72h-1zM617,599.57h1V602.97h-1z" fill="#2fa89b" opacity="0.62"/>
<path d="M476.43,694.91 L476.93,694.66 L477.43,694.42 L477.93,694.18 L478.43,693.95 L478.93,693.70 L479.43,693.44 L479.93,693.14 L480.43,692.81 L480.93,692.44 L481.43,692.00 L481.93,691.50 L482.43,690.94 L482.93,690.32 L483.43,689.63 L483.93,688.88 L484.43,688.06 L484.93,687.14 L485.43,685.99 L485.93,684.65 L486.43,683.16 L486.93,681.57 L487.43,679.93 L487.93,678.17 L488.43,676.26 L488.93,674.18 L489.43,671.93 L489.93,669.42 L490.43,666.55 L490.93,663.43 L491.43,660.21 L491.93,657.02 L492.43,653.96 L492.93,650.85 L493.43,647.74 L493.93,644.72 L494.43,641.91 L494.93,639.28 L495.43,636.72 L495.93,634.47 L496.43,632.75 L496.93,631.26 L497.43,630.01 L497.93,629.21 L498.43,628.87 L498.93,628.65 L499.43,628.48 L499.93,628.33 L500.43,628.18 L500.93,627.97 L501.43,627.69 L501.93,627.38 L502.43,627.03 L502.93,626.66 L503.43,626.27 L503.93,625.88 L504.43,625.49 L504.93,625.12 L505.43,624.76 L505.93,624.40 L506.43,624.04 L506.93,623.68 L507.43,623.32 L507.93,622.97 L508.43,622.61 L508.93,622.25 L509.43,621.89 L509.93,621.53 L510.43,621.16 L510.93,620.80 L511.43,620.43 L511.93,620.05 L512.43,619.67 L512.93,619.29 L513.43,618.90 L513.93,618.51 L514.43,618.10 L514.93,617.68 L515.43,617.24 L515.93,616.79 L516.43,616.34 L516.93,615.89 L517.43,615.44 L517.93,614.99 L518.43,614.56 L518.93,614.13 L519.43,613.73 L519.93,613.34 L520.43,612.98 L520.93,612.64 L521.43,612.31 L521.93,611.99 L522.43,611.68 L522.93,611.38 L523.43,611.08 L523.93,610.80 L524.43,610.52 L524.93,610.24 L525.43,609.97 L525.93,609.71 L526.43,609.45 L526.93,609.19 L527.43,608.94 L527.93,608.69 L528.43,608.44 L528.93,608.19 L529.43,607.95 L529.93,607.71 L530.43,607.47 L530.93,607.24 L531.43,607.01 L531.93,606.78 L532.43,606.56 L532.93,606.34 L533.43,606.13 L533.93,605.92 L534.43,605.72 L534.93,605.53 L535.43,605.34 L535.93,605.16 L536.43,604.99 L536.93,604.82 L537.43,604.65 L537.93,604.49 L538.43,604.33 L538.93,604.17 L539.43,604.02 L539.93,603.87 L540.43,603.73 L540.93,603.59 L541.43,603.45 L541.93,603.31 L542.43,603.19 L542.93,603.06 L543.43,602.94 L543.93,602.82 L544.43,602.71 L544.93,602.61 L545.43,602.51 L545.93,602.41 L546.43,602.31 L546.93,602.22 L547.43,602.13 L547.93,602.04 L548.43,601.95 L548.93,601.87 L549.43,601.79 L549.93,601.71 L550.43,601.63 L550.93,601.56 L551.43,601.49 L551.93,601.42 L552.43,601.35 L552.93,601.29 L553.43,601.23 L553.93,601.17 L554.43,601.11 L554.93,601.06 L555.43,601.00 L555.93,600.95 L556.43,600.90 L556.93,600.85 L557.43,600.80 L557.93,600.75 L558.43,600.70 L558.93,600.66 L559.43,600.61 L559.93,600.57 L560.43,600.54 L560.93,600.50 L561.43,600.46 L561.93,600.43 L562.43,600.40 L562.93,600.38 L563.43,600.35 L563.93,600.32 L564.43,600.29 L564.93,600.26 L565.43,600.24 L565.93,600.21 L566.43,600.18 L566.93,600.16 L567.43,600.14 L567.93,600.12 L568.43,600.10 L568.93,600.08 L569.43,600.07 L569.93,600.06 L570.43,600.05 L570.93,600.05 L571.43,600.05 L571.93,600.05 L572.43,600.05 L572.93,600.05 L573.43,600.05 L573.93,600.05 L574.43,600.05 L574.93,600.05 L575.43,600.05 L575.93,600.05 L576.43,600.05 L576.93,600.05 L577.43,600.05 L577.93,600.05 L578.43,600.05 L578.93,600.05 L579.43,600.05 L579.93,600.05 L580.43,600.05 L580.93,600.05 L581.43,600.05 L581.93,600.05 L582.43,600.05 L582.93,600.05 L583.43,600.05 L583.93,600.05 L584.43,600.05 L584.93,600.05 L585.43,600.05 L585.93,600.05 L586.43,600.05 L586.93,600.05 L587.43,600.05 L587.93,600.05 L588.43,600.05 L588.93,600.05 L589.43,600.05 L589.93,600.05 L590.43,600.05 L590.93,600.06 L591.43,600.06 L591.93,600.07 L592.43,600.08 L592.93,600.09 L593.43,600.10 L593.93,600.11 L594.43,600.12 L594.93,600.13 L595.43,600.14 L595.93,600.16 L596.43,600.17 L596.93,600.19 L597.43,600.21 L597.93,600.23 L598.43,600.24 L598.93,600.26 L599.43,600.28 L599.93,600.30 L600.43,600.32 L600.93,600.34 L601.43,600.37 L601.93,600.39 L602.43,600.41 L602.93,600.43 L603.43,600.46 L603.93,600.48 L604.43,600.51 L604.93,600.53 L605.43,600.56 L605.93,600.58 L606.43,600.61 L606.93,600.63 L607.43,600.66 L607.93,600.68 L608.43,600.71 L608.93,600.73 L609.43,600.76 L609.93,600.78 L610.43,600.81 L610.93,600.83 L611.43,600.86 L611.93,600.88 L612.43,600.91 L612.93,600.93 L613.43,600.96 L613.93,600.98 L614.43,601.00 L614.93,601.03 L615.43,601.05 L615.93,601.07 L616.43,601.09 L616.93,601.12 L617.43,601.14 L617.93,601.16 L618.43,601.18 L618.62,601.18" fill="none" stroke="#2fa89b" stroke-width="2.0" stroke-linejoin="round" stroke-linecap="round"/>
<path d="M497,620.73h1V624.22h-1zM499,618.54h1V626.01h-1zM500,617.75h1V627.41h-1zM501,617.02h1V628.15h-1zM503,615.89h1V634.40h-1zM505,615.42h1V633.04h-1zM507,615.80h1V630.45h-1zM508,616.04h1V629.75h-1zM510,617.63h1V627.72h-1zM512,619.24h1V625.45h-1zM513,619.46h1V623.92h-1zM514,620.79h1V622.69h-1z" fill="#e1cf7b" opacity="0.92"/>
<path d="M498,619.98h1V624.78h-1zM502,616.45h1V631.12h-1zM504,615.49h1V634.81h-1zM506,614.83h1V632.01h-1zM509,617.06h1V628.73h-1zM511,618.26h1V626.73h-1z" fill="#e1cf7b" opacity="0.7"/>
<path d="M476.43,694.91 L476.93,694.58 L477.43,694.27 L477.93,693.96 L478.43,693.64 L478.93,693.28 L479.43,692.88 L479.93,692.40 L480.43,691.84 L480.93,691.19 L481.43,690.45 L481.93,689.65 L482.43,688.77 L482.93,687.82 L483.43,686.77 L483.93,685.55 L484.43,684.18 L484.93,682.68 L485.43,681.11 L485.93,679.45 L486.43,677.67 L486.93,675.73 L487.43,673.60 L487.93,671.25 L488.43,668.57 L488.93,665.53 L489.43,662.19 L489.93,658.65 L490.43,654.89 L490.93,650.35 L491.43,645.39 L491.93,640.57 L492.43,636.49 L492.93,633.64 L493.43,631.38 L493.93,629.43 L494.43,627.82 L494.93,626.57 L495.43,625.63 L495.93,624.76 L496.43,623.99 L496.93,623.35 L497.43,622.91 L497.93,622.71 L498.43,622.74 L498.93,622.89 L499.43,623.11 L499.93,623.37 L500.43,623.63 L500.93,623.86 L501.43,624.09 L501.93,624.35 L502.43,624.61 L502.93,624.83 L503.43,624.99 L503.93,625.04 L504.43,624.99 L504.93,624.87 L505.43,624.71 L505.93,624.50 L506.43,624.28 L506.93,624.06 L507.43,623.85 L507.93,623.61 L508.43,623.34 L508.93,623.07 L509.43,622.82 L509.93,622.62 L510.43,622.45 L510.93,622.30 L511.43,622.17 L511.93,622.04 L512.43,621.91 L512.93,621.78 L513.43,621.64 L513.93,621.47 L514.43,621.28 L514.93,621.05 L515.43,620.78 L515.93,620.48 L516.43,620.15 L516.93,619.80 L517.43,619.44 L517.93,619.07 L518.43,618.70 L518.93,618.34 L519.43,617.99 L519.93,617.66 L520.43,617.35 L520.93,617.07 L521.43,616.79 L521.93,616.52 L522.43,616.25 L522.93,615.98 L523.43,615.72 L523.93,615.47 L524.43,615.22 L524.93,614.97 L525.43,614.73 L525.93,614.50 L526.43,614.27 L526.93,614.05 L527.43,613.84 L527.93,613.63 L528.43,613.42 L528.93,613.22 L529.43,613.02 L529.93,612.83 L530.43,612.64 L530.93,612.45 L531.43,612.26 L531.93,612.08 L532.43,611.90 L532.93,611.73 L533.43,611.56 L533.93,611.39 L534.43,611.23 L534.93,611.06 L535.43,610.91 L535.93,610.75 L536.43,610.60 L536.93,610.45 L537.43,610.30 L537.93,610.15 L538.43,610.00 L538.93,609.85 L539.43,609.71 L539.93,609.57 L540.43,609.43 L540.93,609.29 L541.43,609.16 L541.93,609.03 L542.43,608.91 L542.93,608.79 L543.43,608.68 L543.93,608.58 L544.43,608.48 L544.93,608.39 L545.43,608.30 L545.93,608.22 L546.43,608.13 L546.93,608.05 L547.43,607.97 L547.93,607.90 L548.43,607.83 L548.93,607.75 L549.43,607.69 L549.93,607.62 L550.43,607.56 L550.93,607.50 L551.43,607.44 L551.93,607.39 L552.43,607.34 L552.93,607.30 L553.43,607.26 L553.93,607.22 L554.43,607.18 L554.93,607.15 L555.43,607.11 L555.93,607.08 L556.43,607.04 L556.93,607.01 L557.43,606.98 L557.93,606.95 L558.43,606.92 L558.93,606.89 L559.43,606.87 L559.93,606.85 L560.43,606.83 L560.93,606.81 L561.43,606.80 L561.93,606.79 L562.43,606.79 L562.93,606.79 L563.43,606.79 L563.93,606.79 L564.43,606.79 L564.93,606.79 L565.43,606.79 L565.93,606.79 L566.43,606.79 L566.93,606.79 L567.43,606.79 L567.93,606.79 L568.43,606.79 L568.93,606.79 L569.43,606.79 L569.93,606.79 L570.43,606.79 L570.93,606.79 L571.43,606.79 L571.93,606.79 L572.43,606.79 L572.93,606.79 L573.43,606.79 L573.93,606.79 L574.43,606.79 L574.93,606.79 L575.43,606.79 L575.93,606.79 L576.43,606.79 L576.93,606.79 L577.43,606.79 L577.93,606.79 L578.43,606.79 L578.93,606.79 L579.43,606.79 L579.93,606.79 L580.43,606.79 L580.93,606.79 L581.43,606.80 L581.93,606.80 L582.43,606.81 L582.93,606.81 L583.43,606.82 L583.93,606.83 L584.43,606.84 L584.93,606.86 L585.43,606.87 L585.93,606.88 L586.43,606.90 L586.93,606.91 L587.43,606.93 L587.93,606.95 L588.43,606.96 L588.93,606.98 L589.43,607.00 L589.93,607.02 L590.43,607.04 L590.93,607.06 L591.43,607.08 L591.93,607.10 L592.43,607.12 L592.93,607.14 L593.43,607.16 L593.93,607.18 L594.43,607.20 L594.93,607.22 L595.43,607.24 L595.93,607.26 L596.43,607.27 L596.93,607.29 L597.43,607.31 L597.93,607.33 L598.43,607.35 L598.93,607.36 L599.43,607.38 L599.93,607.40 L600.43,607.42 L600.93,607.44 L601.43,607.46 L601.93,607.48 L602.43,607.50 L602.93,607.52 L603.43,607.54 L603.93,607.56 L604.43,607.58 L604.93,607.60 L605.43,607.62 L605.93,607.64 L606.43,607.66 L606.93,607.68 L607.43,607.71 L607.93,607.73 L608.43,607.75 L608.93,607.77 L609.43,607.79 L609.93,607.82 L610.43,607.84 L610.93,607.86 L611.43,607.88 L611.93,607.90 L612.43,607.92 L612.93,607.95 L613.43,607.97 L613.93,607.99 L614.43,608.01 L614.93,608.03 L615.43,608.06 L615.93,608.08 L616.43,608.10 L616.93,608.12 L617.43,608.14 L617.93,608.16 L618.43,608.18 L618.62,608.19" fill="none" stroke="#e1cf7b" stroke-width="2.0" stroke-linejoin="round" stroke-linecap="round"/>
<line x1="565.30" y1="549.70" x2="577.20" y2="549.70" stroke="#e1cf7b" stroke-width="2.0" stroke-linecap="round"/>
<line x1="565.30" y1="573.40" x2="577.20" y2="573.40" stroke="#2fa89b" stroke-width="2.0" stroke-linecap="round"/>
<text x="583.90" y="553.90" textLength="48.60" lengthAdjust="spacingAndGlyphs" font-style="italic">thsB1/B2</text>
<text x="583.90" y="577.30" textLength="62.20" lengthAdjust="spacingAndGlyphs" font-style="italic">thsA/B1/B2</text>
</svg>
</body>
</html>
